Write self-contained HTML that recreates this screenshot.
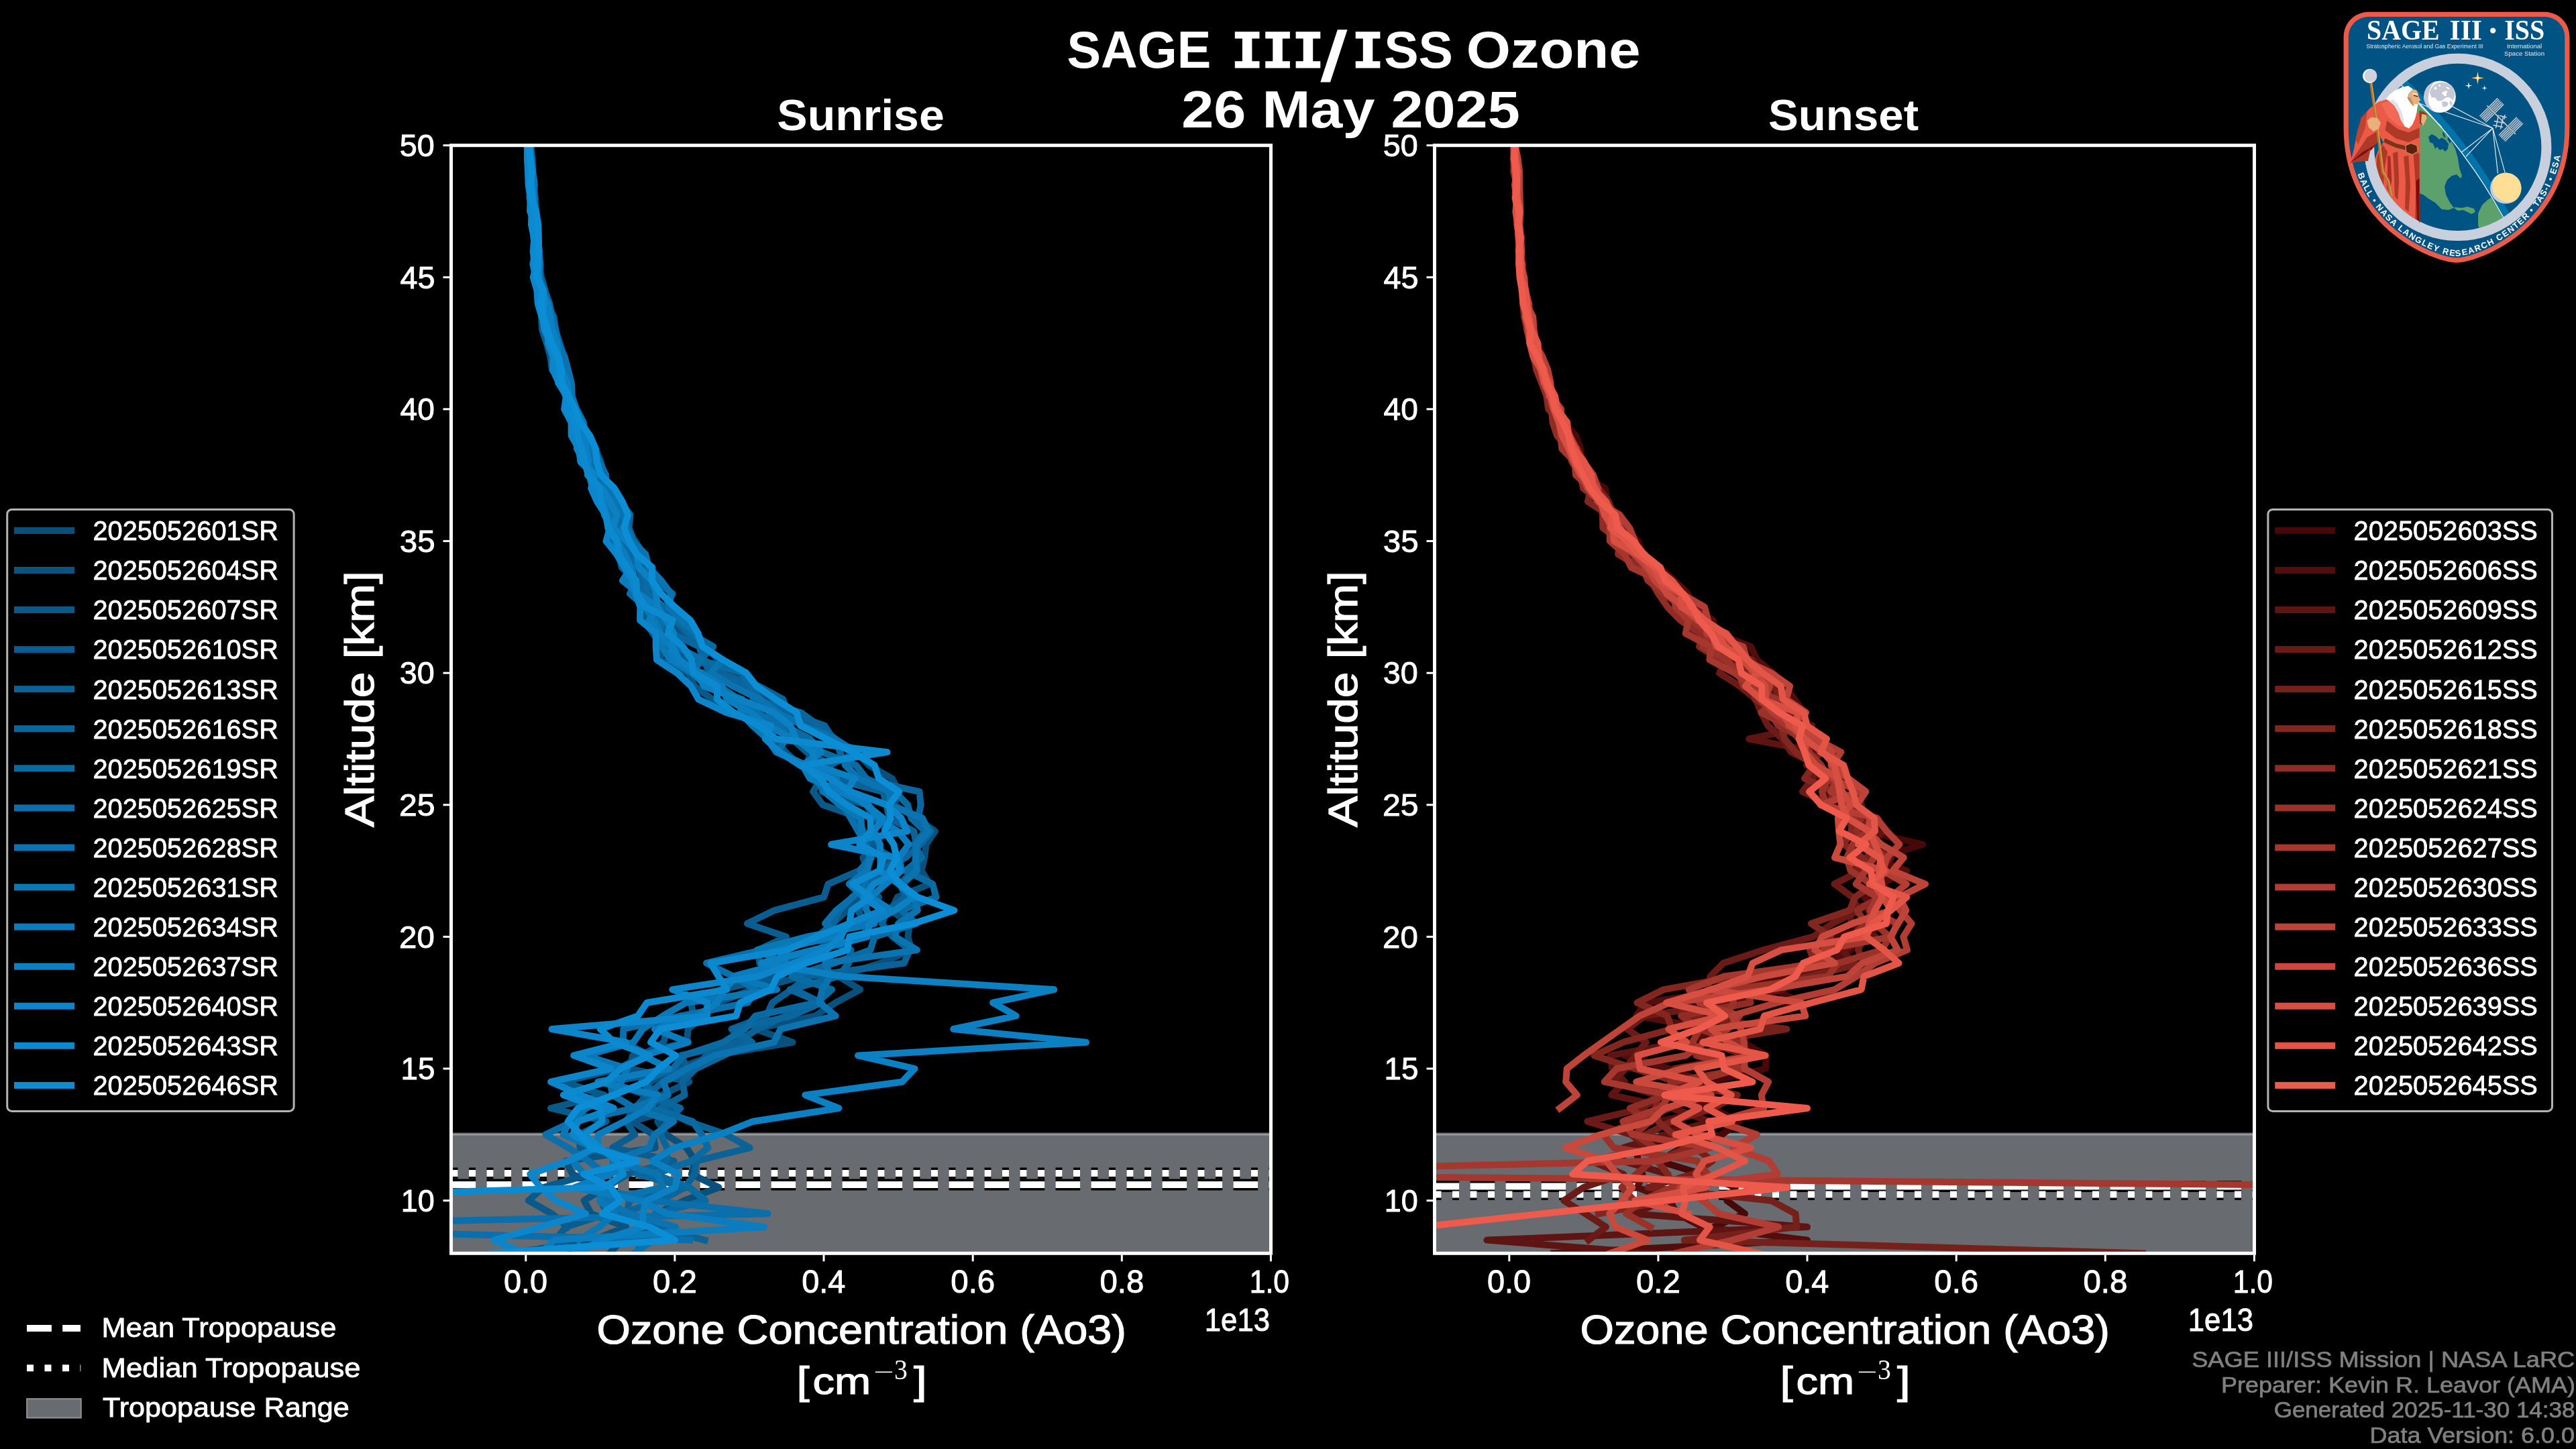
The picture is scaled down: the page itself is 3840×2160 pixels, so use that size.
<!DOCTYPE html>
<html><head><meta charset="utf-8"><title>SAGE III/ISS Ozone</title>
<style>html,body{margin:0;padding:0;background:#000;overflow:hidden}svg{display:block;will-change:transform}</style>
</head><body>
<svg width="3840" height="2160" viewBox="0 0 3840 2160">
<rect x="0" y="0" width="3840" height="2160" fill="#000"/>
<defs>
<clipPath id="cp0"><rect x="672.5" y="216.7" width="1222.0" height="1651.6"/></clipPath>
<clipPath id="cp1"><rect x="2138.5" y="216.7" width="1222.0" height="1651.6"/></clipPath>
</defs>
<g clip-path="url(#cp0)">
<rect x="672.5" y="1690.4" width="1222.0" height="182.9" fill="#686b70"/>
<rect x="672.5" y="1688.6" width="1222.0" height="2.0" fill="#787b7e"/>
<rect x="672.5" y="1690.6" width="1222.0" height="1.8" fill="#a5a8ac"/>
<line x1="672.5" y1="1749.0" x2="1894.5" y2="1749.0" stroke="#000" stroke-width="17" stroke-dasharray="10 16.5"/>
<line x1="672.5" y1="1766.0" x2="1894.5" y2="1766.0" stroke="#000" stroke-width="17" stroke-dasharray="36.7 16.3"/>
<line x1="672.5" y1="1749.0" x2="1894.5" y2="1749.0" stroke="#fff" stroke-width="10" stroke-dasharray="10 16.5"/>
<line x1="672.5" y1="1766.0" x2="1894.5" y2="1766.0" stroke="#fff" stroke-width="10" stroke-dasharray="36.7 16.3"/>
<path d="M791.1 216.7L793.2 236.4L793.9 256.0L795.3 275.7L797.8 295.3L795.3 315.0L800.8 334.7L800.2 354.3L804.2 374.0L801.4 393.7L807.3 413.3L812.7 433.0L815.5 452.6L824.2 472.3L827.7 492.0L834.9 511.6L839.9 531.3L841.2 551.0L847.3 570.6L846.2 590.3L854.5 609.9L864.4 629.6L878.7 649.3L888.4 668.9L888.0 688.6L883.1 708.2L898.4 727.9L897.0 747.6L908.6 767.2L920.4 786.9L921.8 806.6L924.0 826.2L944.4 845.9L966.1 865.5L973.5 885.2L978.9 904.9L998.6 924.5L1012.3 944.2L1002.4 963.9L1038.5 983.5L1075.9 1003.2L1104.7 1022.8L1149.8 1042.5L1167.9 1062.2L1215.8 1081.8L1242.0 1101.5L1276.8 1121.1L1295.2 1140.8L1329.9 1160.5L1340.2 1180.1L1333.0 1199.8L1365.9 1219.5L1393.9 1239.1L1380.6 1258.8L1378.2 1278.4L1373.7 1298.1L1385.9 1317.8L1337.8 1337.4L1328.1 1357.1L1355.8 1376.8L1353.5 1396.4L1358.5 1416.1L1312.8 1435.7L1249.9 1455.4L1282.2 1475.1L1245.6 1494.7L1215.2 1514.4L1126.4 1534.0L1181.4 1553.7L1063.7 1573.4L1008.5 1593.0L970.0 1612.7L958.6 1632.4L996.8 1652.0L980.3 1671.7L993.0 1691.3L1023.5 1711.0L1036.3 1730.7L1030.8 1750.3L1071.4 1770.0L1020.0 1789.7L977.9 1809.3L971.6 1829.0L927.5 1848.6L908.7 1868.3" fill="none" stroke="#09507c" stroke-width="10" stroke-linejoin="round" stroke-linecap="square"/>
<path d="M786.3 216.7L791.7 236.4L792.3 256.0L795.4 275.7L797.3 295.3L799.5 315.0L798.4 334.7L797.7 354.3L804.1 374.0L799.9 393.7L804.5 413.3L806.2 433.0L814.8 452.6L825.9 472.3L828.3 492.0L826.9 511.6L831.1 531.3L838.7 551.0L846.0 570.6L849.8 590.3L853.6 609.9L862.5 629.6L872.0 649.3L887.8 668.9L895.7 688.6L900.5 708.2L899.5 727.9L909.8 747.6L930.6 767.2L929.6 786.9L946.9 806.6L958.9 826.2L962.3 845.9L957.4 865.5L971.6 885.2L978.8 904.9L994.9 924.5L1022.6 944.2L1050.6 963.9L1071.5 983.5L1049.4 1003.2L1072.8 1022.8L1089.8 1042.5L1116.2 1062.2L1162.3 1081.8L1192.7 1101.5L1208.8 1121.1L1201.9 1140.8L1239.3 1160.5L1255.2 1180.1L1254.9 1199.8L1272.7 1219.5L1287.5 1239.1L1312.1 1258.8L1286.4 1278.4L1293.9 1298.1L1277.4 1317.8L1286.0 1337.4L1262.3 1357.1L1241.4 1376.8L1225.2 1396.4L1229.2 1416.1L1241.2 1435.7L1196.5 1455.4L1121.1 1475.1L1070.5 1494.7L1048.7 1514.4L1025.7 1534.0L1023.8 1553.7L943.1 1573.4L938.2 1593.0L1027.4 1612.7L986.2 1632.4L1008.7 1652.0L942.3 1671.7L973.9 1691.3L976.9 1711.0L843.3 1730.7L853.3 1750.3L902.8 1770.0L870.6 1789.7L881.3 1809.3L933.2 1829.0L883.8 1848.6L761.6 1868.3" fill="none" stroke="#095482" stroke-width="10" stroke-linejoin="round" stroke-linecap="square"/>
<path d="M791.9 216.7L790.0 236.4L789.6 256.0L793.9 275.7L792.6 295.3L792.3 315.0L798.3 334.7L796.9 354.3L794.3 374.0L797.6 393.7L797.3 413.3L803.1 433.0L805.3 452.6L807.0 472.3L808.2 492.0L814.8 511.6L820.4 531.3L822.9 551.0L835.4 570.6L844.5 590.3L846.7 609.9L859.8 629.6L860.8 649.3L868.9 668.9L873.4 688.6L890.1 708.2L891.7 727.9L898.7 747.6L913.8 767.2L925.4 786.9L915.4 806.6L922.7 826.2L926.6 845.9L949.8 865.5L943.1 885.2L965.1 904.9L961.0 924.5L973.2 944.2L987.8 963.9L983.7 983.5L1026.0 1003.2L1035.1 1022.8L1062.0 1042.5L1085.5 1062.2L1145.9 1081.8L1154.8 1101.5L1171.1 1121.1L1192.4 1140.8L1223.7 1160.5L1212.2 1180.1L1226.5 1199.8L1283.5 1219.5L1283.4 1239.1L1296.5 1258.8L1330.3 1278.4L1319.5 1298.1L1287.0 1317.8L1310.1 1337.4L1278.4 1357.1L1290.6 1376.8L1289.2 1396.4L1224.2 1416.1L1171.2 1435.7L1165.7 1455.4L1074.4 1475.1L1030.0 1494.7L1033.8 1514.4L994.3 1534.0L989.3 1553.7L957.1 1573.4L923.4 1593.0L839.5 1612.7L900.9 1632.4L821.0 1652.0L903.7 1671.7L863.1 1691.3L864.7 1711.0L938.5 1730.7L880.5 1750.3L810.0 1770.0L787.8 1789.7L822.7 1809.3L845.8 1829.0" fill="none" stroke="#095989" stroke-width="10" stroke-linejoin="round" stroke-linecap="square"/>
<path d="M786.7 216.7L793.4 236.4L793.5 256.0L793.0 275.7L793.1 295.3L793.7 315.0L797.6 334.7L797.0 354.3L797.6 374.0L798.2 393.7L805.6 413.3L809.5 433.0L810.7 452.6L815.6 472.3L822.8 492.0L826.8 511.6L822.8 531.3L835.3 551.0L836.9 570.6L843.1 590.3L857.1 609.9L865.2 629.6L871.4 649.3L879.1 668.9L893.2 688.6L903.1 708.2L898.2 727.9L900.8 747.6L919.7 767.2L906.5 786.9L911.6 806.6L927.8 826.2L930.7 845.9L939.5 865.5L951.6 885.2L964.2 904.9L987.3 924.5L1002.6 944.2L1006.2 963.9L1020.1 983.5L1031.1 1003.2L1063.9 1022.8L1091.0 1042.5L1166.3 1062.2L1162.9 1081.8L1180.9 1101.5L1202.5 1121.1L1239.6 1140.8L1228.0 1160.5L1225.5 1180.1L1291.9 1199.8L1302.7 1219.5L1325.8 1239.1L1292.3 1258.8L1299.4 1278.4L1280.4 1298.1L1234.5 1317.8L1228.2 1337.4L1154.4 1357.1L1114.0 1376.8L1172.0 1396.4L1130.5 1416.1L1132.4 1435.7L1203.4 1455.4L1180.1 1475.1L1151.5 1494.7L1142.4 1514.4L1090.6 1534.0L1107.4 1553.7L1014.4 1573.4L1025.5 1593.0L906.1 1612.7L965.1 1632.4L945.4 1652.0L933.3 1671.7L946.2 1691.3L912.9 1711.0L1004.6 1730.7L936.0 1750.3L903.1 1770.0L895.5 1789.7L905.2 1809.3L843.6 1829.0L827.8 1848.6L858.9 1868.3" fill="none" stroke="#0a5d90" stroke-width="10" stroke-linejoin="round" stroke-linecap="square"/>
<path d="M789.1 216.7L790.8 236.4L792.7 256.0L792.6 275.7L795.1 295.3L794.4 315.0L800.0 334.7L797.8 354.3L802.3 374.0L805.6 393.7L805.2 413.3L812.2 433.0L819.3 452.6L823.3 472.3L828.1 492.0L832.5 511.6L840.4 531.3L840.1 551.0L849.9 570.6L851.5 590.3L859.8 609.9L869.6 629.6L872.6 649.3L886.8 668.9L888.7 688.6L896.9 708.2L905.2 727.9L923.0 747.6L939.6 767.2L937.4 786.9L945.4 806.6L948.4 826.2L955.9 845.9L978.4 865.5L1002.7 885.2L991.6 904.9L1007.3 924.5L1024.4 944.2L1043.7 963.9L1049.9 983.5L1073.1 1003.2L1131.2 1022.8L1167.2 1042.5L1174.1 1062.2L1229.2 1081.8L1242.1 1101.5L1278.1 1121.1L1236.4 1140.8L1239.1 1160.5L1316.5 1180.1L1321.5 1199.8L1325.5 1219.5L1362.3 1239.1L1365.8 1258.8L1365.1 1278.4L1361.2 1298.1L1341.4 1317.8L1350.6 1337.4L1322.6 1357.1L1314.7 1376.8L1330.5 1396.4L1356.2 1416.1L1347.7 1435.7L1204.3 1455.4L1184.0 1475.1L1223.9 1494.7L1171.1 1514.4L1129.2 1534.0L1098.7 1553.7L1052.7 1573.4L1037.2 1593.0L1017.7 1612.7L1020.5 1632.4L984.5 1652.0L1026.0 1671.7L1082.9 1691.3L1117.8 1711.0L1038.2 1730.7L1035.8 1750.3L1020.6 1770.0L938.2 1789.7L934.4 1809.3L972.6 1829.0L1050.6 1848.6" fill="none" stroke="#0a6296" stroke-width="10" stroke-linejoin="round" stroke-linecap="square"/>
<path d="M787.1 216.7L789.1 236.4L791.5 256.0L793.6 275.7L790.3 295.3L792.4 315.0L799.1 334.7L796.5 354.3L799.7 374.0L797.2 393.7L802.7 413.3L805.4 433.0L809.9 452.6L822.1 472.3L826.5 492.0L833.0 511.6L834.8 531.3L842.6 551.0L842.8 570.6L850.9 590.3L853.6 609.9L857.6 629.6L873.2 649.3L874.3 668.9L879.6 688.6L889.5 708.2L903.1 727.9L914.6 747.6L912.9 767.2L924.8 786.9L927.5 806.6L941.7 826.2L953.9 845.9L956.8 865.5L957.6 885.2L969.9 904.9L977.0 924.5L1001.5 944.2L1042.4 963.9L1047.9 983.5L1059.7 1003.2L1116.4 1022.8L1123.1 1042.5L1194.0 1062.2L1220.5 1081.8L1245.2 1101.5L1252.1 1121.1L1260.3 1140.8L1280.0 1160.5L1370.5 1180.1L1372.6 1199.8L1368.8 1219.5L1387.9 1239.1L1372.2 1258.8L1349.8 1278.4L1313.4 1298.1L1294.5 1317.8L1270.2 1337.4L1251.8 1357.1L1241.4 1376.8L1218.4 1396.4L1268.5 1416.1L1265.3 1435.7L1249.9 1455.4L1177.6 1475.1L1224.6 1494.7L1179.7 1514.4L1093.5 1534.0L1121.2 1553.7L1078.5 1573.4L1037.4 1593.0L988.9 1612.7L963.7 1632.4L1014.2 1652.0L994.0 1671.7L984.6 1691.3L994.3 1711.0L994.1 1730.7L949.7 1750.3L1021.6 1770.0L984.1 1789.7L925.2 1809.3L998.7 1829.0L952.9 1848.6L952.1 1868.3" fill="none" stroke="#0a669c" stroke-width="10" stroke-linejoin="round" stroke-linecap="square"/>
<path d="M790.7 216.7L792.2 236.4L789.6 256.0L792.0 275.7L797.4 295.3L796.8 315.0L797.8 334.7L800.4 354.3L803.5 374.0L804.4 393.7L804.8 413.3L805.3 433.0L817.6 452.6L819.8 472.3L819.3 492.0L825.6 511.6L828.7 531.3L837.7 551.0L841.9 570.6L845.9 590.3L849.1 609.9L860.1 629.6L867.9 649.3L877.6 668.9L884.2 688.6L891.4 708.2L890.2 727.9L905.5 747.6L919.1 767.2L929.9 786.9L923.0 806.6L936.0 826.2L952.5 845.9L964.7 865.5L965.7 885.2L990.1 904.9L1008.4 924.5L1029.4 944.2L1063.3 963.9L1043.4 983.5L1106.0 1003.2L1118.0 1022.8L1133.2 1042.5L1146.9 1062.2L1170.0 1081.8L1207.4 1101.5L1225.2 1121.1L1276.3 1140.8L1291.4 1160.5L1334.1 1180.1L1353.0 1199.8L1358.3 1219.5L1379.1 1239.1L1362.6 1258.8L1373.9 1278.4L1349.9 1298.1L1390.2 1317.8L1395.5 1337.4L1343.7 1357.1L1365.7 1376.8L1303.5 1396.4L1297.6 1416.1L1243.2 1435.7L1180.7 1455.4L1240.0 1475.1L1217.2 1494.7L1126.0 1514.4L1110.3 1534.0L1078.3 1553.7L1018.8 1573.4L1003.2 1593.0L956.3 1612.7L980.8 1632.4L970.7 1652.0L1032.4 1671.7L1046.3 1691.3L1055.4 1711.0L1031.1 1730.7L976.2 1750.3L1027.3 1770.0L1051.8 1789.7L978.1 1809.3" fill="none" stroke="#0a6ba3" stroke-width="10" stroke-linejoin="round" stroke-linecap="square"/>
<path d="M786.1 216.7L791.4 236.4L788.0 256.0L792.3 275.7L794.8 295.3L794.7 315.0L792.7 334.7L799.0 354.3L796.1 374.0L800.7 393.7L803.1 413.3L808.1 433.0L814.4 452.6L815.5 472.3L827.0 492.0L830.2 511.6L835.0 531.3L844.7 551.0L842.3 570.6L849.8 590.3L854.9 609.9L856.0 629.6L878.1 649.3L885.2 668.9L893.5 688.6L903.1 708.2L903.0 727.9L899.2 747.6L902.0 767.2L921.1 786.9L920.0 806.6L927.4 826.2L935.6 845.9L948.2 865.5L939.1 885.2L962.4 904.9L985.5 924.5L984.3 944.2L1009.3 963.9L1045.8 983.5L1031.4 1003.2L1072.1 1022.8L1101.5 1042.5L1127.3 1062.2L1165.0 1081.8L1171.9 1101.5L1158.8 1121.1L1201.3 1140.8L1214.5 1160.5L1229.1 1180.1L1256.3 1199.8L1268.0 1219.5L1279.2 1239.1L1290.8 1258.8L1297.2 1278.4L1282.3 1298.1L1291.7 1317.8L1271.1 1337.4L1246.7 1357.1L1230.0 1376.8L1254.5 1396.4L1136.2 1416.1L1053.1 1435.7L1093.2 1455.4L1126.1 1475.1L1114.8 1494.7L1015.1 1514.4L929.4 1534.0L928.7 1553.7L969.1 1573.4L919.7 1593.0L909.5 1612.7L912.9 1632.4L946.2 1652.0L854.0 1671.7L813.4 1691.3L847.1 1711.0L877.5 1730.7L902.6 1750.3L884.4 1770.0L970.3 1789.7L1144.7 1809.3L250.7 1829.0L1028.1 1848.6" fill="none" stroke="#0a6faa" stroke-width="10" stroke-linejoin="round" stroke-linecap="square"/>
<path d="M785.7 216.7L792.1 236.4L794.4 256.0L796.9 275.7L795.0 295.3L796.9 315.0L794.6 334.7L799.7 354.3L803.4 374.0L804.8 393.7L802.9 413.3L809.9 433.0L816.4 452.6L823.2 472.3L828.3 492.0L832.2 511.6L841.5 531.3L846.7 551.0L851.8 570.6L852.7 590.3L858.7 609.9L869.7 629.6L872.2 649.3L877.0 668.9L887.5 688.6L898.7 708.2L904.2 727.9L920.0 747.6L930.5 767.2L935.1 786.9L942.4 806.6L962.3 826.2L967.2 845.9L985.7 865.5L1000.4 885.2L997.0 904.9L1015.2 924.5L1038.2 944.2L1046.5 963.9L1076.7 983.5L1059.5 1003.2L1092.5 1022.8L1132.7 1042.5L1158.7 1062.2L1198.2 1081.8L1245.0 1101.5L1275.4 1121.1L1260.3 1140.8L1279.4 1160.5L1326.5 1180.1L1326.0 1199.8L1374.9 1219.5L1384.3 1239.1L1365.9 1258.8L1365.2 1278.4L1366.9 1298.1L1345.2 1317.8L1362.4 1337.4L1367.8 1357.1L1339.0 1376.8L1334.1 1396.4L1366.9 1416.1L1230.0 1435.7L1238.0 1455.4L1225.7 1475.1L1221.3 1494.7L1245.7 1514.4L1163.6 1534.0L1153.8 1553.7L1065.1 1573.4L1024.3 1593.0L989.0 1612.7L995.8 1632.4L942.3 1652.0L1004.2 1671.7L975.5 1691.3L967.8 1711.0L913.1 1730.7L979.8 1750.3L988.8 1770.0L899.1 1789.7L938.7 1809.3L1007.1 1829.0L974.2 1848.6L945.1 1868.3" fill="none" stroke="#0b73b0" stroke-width="10" stroke-linejoin="round" stroke-linecap="square"/>
<path d="M790.2 216.7L787.8 236.4L789.7 256.0L791.0 275.7L793.5 295.3L794.1 315.0L795.8 334.7L798.4 354.3L799.3 374.0L794.2 393.7L798.4 413.3L803.4 433.0L811.8 452.6L811.5 472.3L815.3 492.0L817.8 511.6L825.1 531.3L828.4 551.0L835.2 570.6L844.4 590.3L854.3 609.9L859.9 629.6L866.9 649.3L876.4 668.9L872.0 688.6L888.9 708.2L884.8 727.9L902.9 747.6L908.6 767.2L908.5 786.9L917.2 806.6L925.9 826.2L941.4 845.9L946.5 865.5L948.3 885.2L961.1 904.9L974.7 924.5L984.4 944.2L987.1 963.9L998.4 983.5L1032.1 1003.2L1053.2 1022.8L1106.2 1042.5L1103.9 1062.2L1121.8 1081.8L1143.9 1101.5L1156.9 1121.1L1202.7 1140.8L1247.4 1160.5L1229.0 1180.1L1251.9 1199.8L1282.8 1219.5L1285.0 1239.1L1287.4 1258.8L1298.0 1278.4L1292.1 1298.1L1265.8 1317.8L1287.2 1337.4L1291.7 1357.1L1303.7 1376.8L1203.4 1396.4L1128.9 1416.1L1167.5 1435.7L1093.3 1455.4L1158.0 1475.1L1022.3 1494.7L988.3 1514.4L957.9 1534.0L944.5 1553.7L872.5 1573.4L934.9 1593.0L926.3 1612.7L913.2 1632.4L873.8 1652.0L848.4 1671.7L839.7 1691.3L885.3 1711.0L853.6 1730.7L870.8 1750.3L897.6 1770.0L893.9 1789.7L916.7 1809.3L893.3 1829.0L863.1 1848.6" fill="none" stroke="#0b78b6" stroke-width="10" stroke-linejoin="round" stroke-linecap="square"/>
<path d="M785.0 216.7L791.2 236.4L790.1 256.0L790.8 275.7L789.5 295.3L796.3 315.0L796.2 334.7L800.1 354.3L800.3 374.0L803.4 393.7L799.2 413.3L808.3 433.0L807.7 452.6L814.4 472.3L823.5 492.0L830.3 511.6L829.2 531.3L834.2 551.0L840.3 570.6L846.4 590.3L846.4 609.9L857.4 629.6L859.5 649.3L859.9 668.9L871.3 688.6L878.1 708.2L883.7 727.9L901.2 747.6L900.9 767.2L911.0 786.9L920.1 806.6L930.9 826.2L940.4 845.9L928.1 865.5L952.4 885.2L979.5 904.9L967.5 924.5L984.5 944.2L999.1 963.9L1003.0 983.5L1045.8 1003.2L1076.5 1022.8L1083.7 1042.5L1119.0 1062.2L1143.5 1081.8L1183.7 1101.5L1224.2 1121.1L1196.3 1140.8L1207.4 1160.5L1252.2 1180.1L1294.7 1199.8L1308.0 1219.5L1338.3 1239.1L1354.8 1258.8L1340.1 1278.4L1343.9 1298.1L1319.9 1317.8L1298.3 1337.4L1329.3 1357.1L1265.4 1376.8L1239.7 1396.4L1160.7 1416.1L1171.4 1435.7L1098.8 1455.4L1079.5 1475.1L1069.0 1494.7L1039.2 1514.4L975.9 1534.0L1025.8 1553.7L958.4 1573.4L997.6 1593.0L891.4 1612.7L979.8 1632.4L965.7 1652.0L931.2 1671.7L891.9 1691.3L890.5 1711.0L950.1 1730.7L910.0 1750.3L857.0 1770.0L954.0 1789.7L994.8 1809.3L1139.2 1829.0L826.1 1848.6L806.1 1868.3" fill="none" stroke="#0b7cbd" stroke-width="10" stroke-linejoin="round" stroke-linecap="square"/>
<path d="M787.4 216.7L788.7 236.4L787.8 256.0L792.8 275.7L794.6 295.3L796.2 315.0L799.2 334.7L798.7 354.3L802.7 374.0L802.0 393.7L803.4 413.3L806.9 433.0L816.4 452.6L819.9 472.3L822.9 492.0L830.7 511.6L831.4 531.3L837.2 551.0L845.4 570.6L847.8 590.3L854.3 609.9L859.1 629.6L873.1 649.3L872.4 668.9L877.2 688.6L875.8 708.2L897.1 727.9L909.3 747.6L919.8 767.2L913.8 786.9L934.2 806.6L949.6 826.2L952.3 845.9L971.8 865.5L978.3 885.2L979.8 904.9L993.0 924.5L1004.2 944.2L1002.4 963.9L1012.2 983.5L1038.9 1003.2L1049.5 1022.8L1101.8 1042.5L1153.6 1062.2L1178.5 1081.8L1186.6 1101.5L1211.4 1121.1L1215.2 1140.8L1274.0 1160.5L1261.9 1180.1L1291.6 1199.8L1315.9 1219.5L1302.9 1239.1L1311.7 1258.8L1312.6 1278.4L1312.2 1298.1L1339.4 1317.8L1361.5 1337.4L1333.5 1357.1L1295.6 1376.8L1293.1 1396.4L1212.6 1416.1L1135.0 1435.7L1255.8 1455.4L1571.2 1475.1L1480.1 1494.7L1514.6 1514.4L1421.3 1534.0L1619.0 1553.7L1279.1 1573.4L1363.5 1593.0L1344.7 1612.7L1200.3 1632.4L1250.3 1652.0L1122.5 1671.7L1072.6 1691.3L1005.9 1711.0L972.6 1730.7L1011.1 1750.3L1006.2 1770.0L963.9 1789.7L958.2 1809.3L958.4 1829.0L897.2 1848.6L857.6 1868.3" fill="none" stroke="#0b81c4" stroke-width="10" stroke-linejoin="round" stroke-linecap="square"/>
<path d="M786.1 216.7L785.9 236.4L787.0 256.0L787.7 275.7L790.6 295.3L790.1 315.0L797.5 334.7L795.4 354.3L800.1 374.0L800.0 393.7L794.8 413.3L800.5 433.0L801.7 452.6L807.5 472.3L817.0 492.0L816.9 511.6L824.5 531.3L824.2 551.0L832.9 570.6L843.9 590.3L841.2 609.9L851.6 629.6L851.7 649.3L862.9 668.9L865.5 688.6L885.6 708.2L881.2 727.9L889.9 747.6L902.5 767.2L909.2 786.9L903.5 806.6L919.1 826.2L930.6 845.9L942.3 865.5L947.7 885.2L954.4 904.9L954.1 924.5L977.8 944.2L977.7 963.9L979.0 983.5L1009.2 1003.2L1030.0 1022.8L1041.3 1042.5L1082.8 1062.2L1149.3 1081.8L1140.8 1101.5L1162.4 1121.1L1192.4 1140.8L1237.3 1160.5L1268.0 1180.1L1321.7 1199.8L1343.4 1219.5L1352.4 1239.1L1239.1 1258.8L1335.8 1278.4L1341.5 1298.1L1302.6 1317.8L1287.8 1337.4L1315.4 1357.1L1265.0 1376.8L1252.9 1396.4L1231.7 1416.1L1184.3 1435.7L1130.7 1455.4L1002.3 1475.1L1054.2 1494.7L1054.0 1514.4L822.7 1534.0L933.2 1553.7L855.3 1573.4L910.7 1593.0L821.1 1612.7L865.8 1632.4L914.9 1652.0L861.4 1671.7L853.9 1691.3L887.0 1711.0L847.2 1730.7L790.3 1750.3L805.9 1770.0L828.8 1789.7L873.1 1809.3L805.5 1829.0L736.2 1848.6L781.8 1868.3" fill="none" stroke="#0c85ca" stroke-width="10" stroke-linejoin="round" stroke-linecap="square"/>
<path d="M789.0 216.7L790.3 236.4L792.3 256.0L791.7 275.7L794.6 295.3L792.7 315.0L792.0 334.7L796.0 354.3L795.5 374.0L795.9 393.7L801.3 413.3L810.0 433.0L810.0 452.6L808.6 472.3L811.7 492.0L820.5 511.6L830.4 531.3L833.3 551.0L832.1 570.6L845.4 590.3L844.3 609.9L857.5 629.6L861.2 649.3L866.8 668.9L871.4 688.6L877.2 708.2L893.4 727.9L895.5 747.6L903.1 767.2L906.4 786.9L919.5 806.6L922.3 826.2L935.0 845.9L948.1 865.5L949.5 885.2L962.4 904.9L1002.7 924.5L995.6 944.2L1018.0 963.9L1031.0 983.5L1033.5 1003.2L1069.4 1022.8L1068.9 1042.5L1094.0 1062.2L1130.6 1081.8L1156.3 1101.5L1322.4 1121.1L1197.0 1140.8L1223.3 1160.5L1235.6 1180.1L1262.4 1199.8L1297.4 1219.5L1298.3 1239.1L1281.3 1258.8L1317.5 1278.4L1310.8 1298.1L1271.0 1317.8L1297.8 1337.4L1269.4 1357.1L1266.0 1376.8L1217.4 1396.4L1173.1 1416.1L1059.3 1435.7L1070.9 1455.4L1083.2 1475.1L964.3 1494.7L950.9 1514.4L894.8 1534.0L915.5 1553.7L968.1 1573.4L925.5 1593.0L903.8 1612.7L839.9 1632.4L895.5 1652.0L897.7 1671.7L871.0 1691.3L894.0 1711.0L920.0 1730.7L929.2 1750.3L900.4 1770.0L221.8 1789.7" fill="none" stroke="#0c8ad0" stroke-width="10" stroke-linejoin="round" stroke-linecap="square"/>
<path d="M788.4 216.7L790.3 236.4L793.1 256.0L790.1 275.7L792.5 295.3L798.9 315.0L802.3 334.7L802.9 354.3L803.1 374.0L801.9 393.7L799.5 413.3L809.6 433.0L805.7 452.6L810.4 472.3L816.3 492.0L822.5 511.6L832.1 531.3L836.8 551.0L837.3 570.6L847.5 590.3L857.4 609.9L865.1 629.6L879.3 649.3L887.7 668.9L889.8 688.6L896.0 708.2L915.8 727.9L927.6 747.6L936.3 767.2L930.1 786.9L938.1 806.6L949.1 826.2L972.3 845.9L971.8 865.5L985.7 885.2L1005.9 904.9L1029.1 924.5L1040.6 944.2L1047.3 963.9L1077.7 983.5L1112.5 1003.2L1127.7 1022.8L1156.2 1042.5L1187.6 1062.2L1193.2 1081.8L1231.9 1101.5L1270.8 1121.1L1303.6 1140.8L1310.0 1160.5L1340.2 1180.1L1325.8 1199.8L1327.5 1219.5L1318.8 1239.1L1332.2 1258.8L1336.8 1278.4L1326.7 1298.1L1341.8 1317.8L1368.0 1337.4L1422.4 1357.1L1361.3 1376.8L1266.4 1396.4L1263.3 1416.1L1201.2 1435.7L1158.7 1455.4L1149.2 1475.1L1103.3 1494.7L1097.5 1514.4L984.2 1534.0L970.0 1553.7L1007.2 1573.4L981.5 1593.0L963.5 1612.7L914.8 1632.4L861.4 1652.0L846.8 1671.7L865.8 1691.3L881.1 1711.0L950.3 1730.7L870.1 1750.3L910.5 1770.0L924.6 1789.7L897.8 1809.3L968.3 1829.0L1005.9 1848.6L733.8 1868.3" fill="none" stroke="#0c8ed7" stroke-width="10" stroke-linejoin="round" stroke-linecap="square"/>
</g>
<rect x="672.5" y="216.7" width="1222.0" height="1651.6" fill="none" stroke="#fff" stroke-width="5"/>
<rect x="660.5" y="1788.2" width="9.5" height="3" fill="#fff"/>
<text x="597.7" y="1805.9" font-family='"Liberation Sans", sans-serif' font-size="47.0" font-weight="normal" fill="#fff" text-anchor="start" textLength="50.0" lengthAdjust="spacingAndGlyphs"  stroke="#fff" stroke-width="0.94">10</text>
<rect x="660.5" y="1591.5" width="9.5" height="3" fill="#fff"/>
<text x="597.6" y="1609.2" font-family='"Liberation Sans", sans-serif' font-size="47.0" font-weight="normal" fill="#fff" text-anchor="start" textLength="50.8" lengthAdjust="spacingAndGlyphs"  stroke="#fff" stroke-width="0.94">15</text>
<rect x="660.5" y="1394.9" width="9.5" height="3" fill="#fff"/>
<text x="595.1" y="1412.6" font-family='"Liberation Sans", sans-serif' font-size="47.0" font-weight="normal" fill="#fff" text-anchor="start" textLength="52.7" lengthAdjust="spacingAndGlyphs"  stroke="#fff" stroke-width="0.94">20</text>
<rect x="660.5" y="1198.3" width="9.5" height="3" fill="#fff"/>
<text x="595.0" y="1216.0" font-family='"Liberation Sans", sans-serif' font-size="47.0" font-weight="normal" fill="#fff" text-anchor="start" textLength="53.5" lengthAdjust="spacingAndGlyphs"  stroke="#fff" stroke-width="0.94">25</text>
<rect x="660.5" y="1001.7" width="9.5" height="3" fill="#fff"/>
<text x="595.8" y="1019.4" font-family='"Liberation Sans", sans-serif' font-size="47.0" font-weight="normal" fill="#fff" text-anchor="start" textLength="51.9" lengthAdjust="spacingAndGlyphs"  stroke="#fff" stroke-width="0.94">30</text>
<rect x="660.5" y="805.1" width="9.5" height="3" fill="#fff"/>
<text x="595.8" y="822.8" font-family='"Liberation Sans", sans-serif' font-size="47.0" font-weight="normal" fill="#fff" text-anchor="start" textLength="52.7" lengthAdjust="spacingAndGlyphs"  stroke="#fff" stroke-width="0.94">35</text>
<rect x="660.5" y="608.4" width="9.5" height="3" fill="#fff"/>
<text x="596.6" y="626.1" font-family='"Liberation Sans", sans-serif' font-size="47.0" font-weight="normal" fill="#fff" text-anchor="start" textLength="51.2" lengthAdjust="spacingAndGlyphs"  stroke="#fff" stroke-width="0.94">40</text>
<rect x="660.5" y="411.8" width="9.5" height="3" fill="#fff"/>
<text x="596.6" y="429.5" font-family='"Liberation Sans", sans-serif' font-size="47.0" font-weight="normal" fill="#fff" text-anchor="start" textLength="51.9" lengthAdjust="spacingAndGlyphs"  stroke="#fff" stroke-width="0.94">45</text>
<rect x="660.5" y="215.2" width="9.5" height="3" fill="#fff"/>
<text x="595.8" y="232.9" font-family='"Liberation Sans", sans-serif' font-size="47.0" font-weight="normal" fill="#fff" text-anchor="start" textLength="51.9" lengthAdjust="spacingAndGlyphs"  stroke="#fff" stroke-width="0.94">50</text>
<rect x="782.3" y="1870.8" width="3" height="9.5" fill="#fff"/>
<text x="750.9" y="1927.4" font-family='"Liberation Sans", sans-serif' font-size="48.0" font-weight="normal" fill="#fff" text-anchor="start" textLength="65.1" lengthAdjust="spacingAndGlyphs"  stroke="#fff" stroke-width="0.96">0.0</text>
<rect x="1004.4" y="1870.8" width="3" height="9.5" fill="#fff"/>
<text x="973.0" y="1927.4" font-family='"Liberation Sans", sans-serif' font-size="48.0" font-weight="normal" fill="#fff" text-anchor="start" textLength="65.9" lengthAdjust="spacingAndGlyphs"  stroke="#fff" stroke-width="0.96">0.2</text>
<rect x="1226.5" y="1870.8" width="3" height="9.5" fill="#fff"/>
<text x="1195.2" y="1927.4" font-family='"Liberation Sans", sans-serif' font-size="48.0" font-weight="normal" fill="#fff" text-anchor="start" textLength="65.1" lengthAdjust="spacingAndGlyphs"  stroke="#fff" stroke-width="0.96">0.4</text>
<rect x="1448.7" y="1870.8" width="3" height="9.5" fill="#fff"/>
<text x="1417.3" y="1927.4" font-family='"Liberation Sans", sans-serif' font-size="48.0" font-weight="normal" fill="#fff" text-anchor="start" textLength="65.9" lengthAdjust="spacingAndGlyphs"  stroke="#fff" stroke-width="0.96">0.6</text>
<rect x="1670.8" y="1870.8" width="3" height="9.5" fill="#fff"/>
<text x="1639.4" y="1927.4" font-family='"Liberation Sans", sans-serif' font-size="48.0" font-weight="normal" fill="#fff" text-anchor="start" textLength="65.9" lengthAdjust="spacingAndGlyphs"  stroke="#fff" stroke-width="0.96">0.8</text>
<rect x="1892.9" y="1870.8" width="3" height="9.5" fill="#fff"/>
<text x="1862.8" y="1927.4" font-family='"Liberation Sans", sans-serif' font-size="48.0" font-weight="normal" fill="#fff" text-anchor="start" textLength="59.2" lengthAdjust="spacingAndGlyphs"  stroke="#fff" stroke-width="0.96">1.0</text>
<text x="1795.8" y="1983.8" font-family='"Liberation Sans", sans-serif' font-size="48.0" font-weight="normal" fill="#fff" text-anchor="start" textLength="97.2" lengthAdjust="spacingAndGlyphs"  stroke="#fff" stroke-width="0.96">1e13</text>
<text x="889.5" y="2002.8" font-family='"Liberation Sans", sans-serif' font-size="61.0" font-weight="normal" fill="#fff" text-anchor="start" textLength="789.4" lengthAdjust="spacingAndGlyphs"  stroke="#fff" stroke-width="1.22">Ozone Concentration (Ao3)</text>
<text x="1187.5" y="2077.6" font-family='"Liberation Sans", sans-serif' font-size="57.5" font-weight="normal" fill="#fff" text-anchor="start" textLength="19.2" lengthAdjust="spacingAndGlyphs"  stroke="#fff" stroke-width="1.15">[</text>
<text x="1211.5" y="2077.6" font-family='"Liberation Sans", sans-serif' font-size="56.0" font-weight="normal" fill="#fff" text-anchor="start" textLength="86.6" lengthAdjust="spacingAndGlyphs"  stroke="#fff" stroke-width="1.12">cm</text>
<rect x="1304.8" y="2044.5" width="25.2" height="1.7" fill="#fff"/>
<text x="1333.1" y="2055.6" font-family='"Liberation Serif", serif' font-size="42.5" font-weight="normal" fill="#fff" text-anchor="start" textLength="19.9" lengthAdjust="spacingAndGlyphs" >3</text>
<text x="1361.9" y="2077.6" font-family='"Liberation Sans", sans-serif' font-size="57.5" font-weight="normal" fill="#fff" text-anchor="start" textLength="19.8" lengthAdjust="spacingAndGlyphs"  stroke="#fff" stroke-width="1.15">]</text>
<g transform="translate(557.0 1233.0) rotate(-90)">
<text x="0.0" y="0.0" font-family='"Liberation Sans", sans-serif' font-size="61.0" font-weight="normal" fill="#fff" text-anchor="start" textLength="381.7" lengthAdjust="spacingAndGlyphs"  stroke="#fff" stroke-width="1.22">Altitude [km]</text>
</g>
<g clip-path="url(#cp1)">
<rect x="2138.5" y="1690.4" width="1222.0" height="182.9" fill="#686b70"/>
<rect x="2138.5" y="1688.6" width="1222.0" height="2.0" fill="#787b7e"/>
<rect x="2138.5" y="1690.6" width="1222.0" height="1.8" fill="#a5a8ac"/>
<line x1="2138.5" y1="1780.5" x2="3360.5" y2="1780.5" stroke="#000" stroke-width="17" stroke-dasharray="10 16.5"/>
<line x1="2138.5" y1="1768.6" x2="3360.5" y2="1768.6" stroke="#000" stroke-width="17" stroke-dasharray="36.7 16.3"/>
<line x1="2138.5" y1="1780.5" x2="3360.5" y2="1780.5" stroke="#fff" stroke-width="10" stroke-dasharray="10 16.5"/>
<line x1="2138.5" y1="1768.6" x2="3360.5" y2="1768.6" stroke="#fff" stroke-width="10" stroke-dasharray="36.7 16.3"/>
<path d="M2255.8 216.7L2258.3 236.4L2259.5 256.0L2260.6 275.7L2265.1 295.3L2264.8 315.0L2264.1 334.7L2266.8 354.3L2268.4 374.0L2270.0 393.7L2270.5 413.3L2272.9 433.0L2272.4 452.6L2278.8 472.3L2286.5 492.0L2291.9 511.6L2299.2 531.3L2300.8 551.0L2311.1 570.6L2314.4 590.3L2323.5 609.9L2331.0 629.6L2349.1 649.3L2356.4 668.9L2354.4 688.6L2357.6 708.2L2392.8 727.9L2396.5 747.6L2397.8 767.2L2419.8 786.9L2442.0 806.6L2449.9 826.2L2472.5 845.9L2482.1 865.5L2492.2 885.2L2524.9 904.9L2510.0 924.5L2545.3 944.2L2564.3 963.9L2582.2 983.5L2625.4 1003.2L2624.8 1022.8L2666.6 1042.5L2658.2 1062.2L2692.5 1081.8L2686.4 1101.5L2730.7 1121.1L2729.9 1140.8L2728.0 1160.5L2735.3 1180.1L2735.8 1199.8L2800.2 1219.5L2782.7 1239.1L2866.2 1258.8L2803.0 1278.4L2811.3 1298.1L2803.9 1317.8L2812.0 1337.4L2783.8 1357.1L2804.9 1376.8L2739.3 1396.4L2759.8 1416.1L2724.4 1435.7L2694.6 1455.4L2646.7 1475.1L2684.8 1494.7L2632.2 1514.4L2607.1 1534.0L2599.2 1553.7L2632.6 1573.4L2632.1 1593.0L2550.1 1612.7L2510.1 1632.4L2551.8 1652.0L2592.5 1671.7L2567.0 1691.3L2507.6 1711.0L2473.1 1730.7L2537.0 1750.3L2587.1 1770.0L2574.3 1789.7L2601.0 1809.3L2554.8 1829.0L2539.2 1848.6" fill="none" stroke="#460808" stroke-width="10" stroke-linejoin="round" stroke-linecap="square"/>
<path d="M2258.6 216.7L2257.9 236.4L2258.9 256.0L2261.1 275.7L2259.7 295.3L2262.8 315.0L2262.7 334.7L2267.0 354.3L2265.0 374.0L2267.7 393.7L2267.7 413.3L2274.1 433.0L2277.2 452.6L2279.7 472.3L2281.3 492.0L2286.8 511.6L2293.0 531.3L2300.8 551.0L2305.0 570.6L2311.8 590.3L2324.8 609.9L2322.6 629.6L2340.5 649.3L2343.5 668.9L2353.4 688.6L2358.2 708.2L2375.3 727.9L2382.4 747.6L2394.9 767.2L2406.1 786.9L2424.9 806.6L2446.1 826.2L2474.3 845.9L2495.8 865.5L2516.3 885.2L2522.9 904.9L2553.4 924.5L2558.0 944.2L2609.9 963.9L2619.1 983.5L2642.6 1003.2L2660.7 1022.8L2675.3 1042.5L2688.9 1062.2L2682.4 1081.8L2683.2 1101.5L2721.6 1121.1L2741.9 1140.8L2706.3 1160.5L2718.5 1180.1L2751.2 1199.8L2764.2 1219.5L2762.8 1239.1L2798.0 1258.8L2790.4 1278.4L2842.2 1298.1L2804.1 1317.8L2779.2 1337.4L2797.3 1357.1L2813.6 1376.8L2769.6 1396.4L2754.1 1416.1L2730.5 1435.7L2657.5 1455.4L2579.8 1475.1L2453.1 1494.7L2439.0 1514.4L2553.0 1534.0L2522.9 1553.7L2421.3 1573.4L2487.0 1593.0L2540.5 1612.7L2489.8 1632.4L2559.7 1652.0L2473.2 1671.7L2517.9 1691.3L2439.1 1711.0L2441.9 1730.7L2448.5 1750.3L2441.0 1770.0L2489.2 1789.7L2500.0 1809.3L2538.3 1829.0L2694.0 1848.6L2316.4 1868.3" fill="none" stroke="#520e0d" stroke-width="10" stroke-linejoin="round" stroke-linecap="square"/>
<path d="M2256.6 216.7L2257.3 236.4L2255.8 256.0L2261.4 275.7L2262.3 295.3L2261.1 315.0L2263.0 334.7L2264.6 354.3L2263.5 374.0L2265.0 393.7L2270.7 413.3L2273.1 433.0L2274.8 452.6L2276.6 472.3L2280.1 492.0L2281.3 511.6L2292.7 531.3L2296.0 551.0L2306.1 570.6L2311.4 590.3L2320.0 609.9L2326.8 629.6L2329.0 649.3L2343.5 668.9L2349.3 688.6L2357.1 708.2L2382.6 727.9L2380.8 747.6L2397.2 767.2L2408.0 786.9L2428.7 806.6L2436.8 826.2L2449.0 845.9L2484.2 865.5L2494.4 885.2L2518.8 904.9L2537.3 924.5L2543.5 944.2L2582.9 963.9L2597.0 983.5L2624.3 1003.2L2635.6 1022.8L2645.5 1042.5L2642.1 1062.2L2701.3 1081.8L2607.4 1101.5L2710.4 1121.1L2693.0 1140.8L2746.1 1160.5L2771.2 1180.1L2774.8 1199.8L2777.8 1219.5L2808.3 1239.1L2784.3 1258.8L2819.5 1278.4L2798.8 1298.1L2805.4 1317.8L2817.8 1337.4L2756.0 1357.1L2760.4 1376.8L2796.0 1396.4L2745.9 1416.1L2762.8 1435.7L2682.4 1455.4L2657.6 1475.1L2556.8 1494.7L2569.0 1514.4L2517.3 1534.0L2508.6 1553.7L2400.7 1573.4L2403.1 1593.0L2422.0 1612.7L2402.3 1632.4L2492.1 1652.0L2549.5 1671.7L2484.3 1691.3L2419.7 1711.0L2419.1 1730.7L2486.3 1750.3L2464.8 1770.0L2482.6 1789.7L2433.5 1809.3L2694.0 1829.0L2216.5 1848.6L2463.4 1868.3" fill="none" stroke="#5e1412" stroke-width="10" stroke-linejoin="round" stroke-linecap="square"/>
<path d="M2258.7 216.7L2259.3 236.4L2261.7 256.0L2260.8 275.7L2260.4 295.3L2261.4 315.0L2261.5 334.7L2266.6 354.3L2268.0 374.0L2265.9 393.7L2271.4 413.3L2268.6 433.0L2270.1 452.6L2278.6 472.3L2276.3 492.0L2280.1 511.6L2293.8 531.3L2301.7 551.0L2308.2 570.6L2311.8 590.3L2316.2 609.9L2316.3 629.6L2334.0 649.3L2343.8 668.9L2344.2 688.6L2355.9 708.2L2371.7 727.9L2380.9 747.6L2393.7 767.2L2403.6 786.9L2411.1 806.6L2435.6 826.2L2440.5 845.9L2481.1 865.5L2491.3 885.2L2511.7 904.9L2523.7 924.5L2524.1 944.2L2547.6 963.9L2571.8 983.5L2563.2 1003.2L2593.3 1022.8L2617.3 1042.5L2625.2 1062.2L2635.5 1081.8L2656.9 1101.5L2669.9 1121.1L2708.7 1140.8L2701.9 1160.5L2687.0 1180.1L2730.5 1199.8L2752.8 1219.5L2764.1 1239.1L2763.1 1258.8L2755.1 1278.4L2773.3 1298.1L2734.6 1317.8L2761.6 1337.4L2770.5 1357.1L2731.3 1376.8L2702.7 1396.4L2629.2 1416.1L2568.9 1435.7L2549.5 1455.4L2545.8 1475.1L2581.1 1494.7L2451.9 1514.4L2425.6 1534.0L2453.8 1553.7L2437.3 1573.4L2423.4 1593.0L2403.6 1612.7L2470.7 1632.4L2449.6 1652.0L2366.4 1671.7L2431.4 1691.3L2456.5 1711.0L2371.5 1730.7L2420.1 1750.3L2360.6 1770.0L2331.3 1789.7L2363.3 1809.3L2393.9 1829.0L2368.3 1848.6" fill="none" stroke="#6a1a17" stroke-width="10" stroke-linejoin="round" stroke-linecap="square"/>
<path d="M2258.3 216.7L2260.0 236.4L2259.6 256.0L2260.7 275.7L2260.1 295.3L2264.6 315.0L2264.9 334.7L2268.2 354.3L2266.5 374.0L2266.7 393.7L2271.5 413.3L2270.5 433.0L2277.5 452.6L2279.1 472.3L2284.4 492.0L2289.6 511.6L2294.7 531.3L2299.2 551.0L2306.1 570.6L2316.9 590.3L2323.1 609.9L2333.9 629.6L2339.8 649.3L2351.3 668.9L2361.8 688.6L2360.5 708.2L2383.1 727.9L2397.8 747.6L2405.8 767.2L2421.1 786.9L2430.8 806.6L2444.3 826.2L2466.8 845.9L2491.7 865.5L2494.7 885.2L2525.0 904.9L2543.9 924.5L2555.9 944.2L2566.1 963.9L2611.1 983.5L2623.9 1003.2L2646.1 1022.8L2653.2 1042.5L2667.0 1062.2L2687.5 1081.8L2709.5 1101.5L2713.4 1121.1L2699.6 1140.8L2741.4 1160.5L2744.9 1180.1L2765.4 1199.8L2776.9 1219.5L2782.1 1239.1L2794.5 1258.8L2782.9 1278.4L2767.6 1298.1L2786.3 1317.8L2799.3 1337.4L2793.5 1357.1L2777.7 1376.8L2779.0 1396.4L2770.0 1416.1L2777.9 1435.7L2697.0 1455.4L2606.9 1475.1L2509.9 1494.7L2506.8 1514.4L2663.4 1534.0L2541.6 1553.7L2607.7 1573.4L2496.6 1593.0L2495.3 1612.7L2589.9 1632.4L2553.5 1652.0L2491.3 1671.7L2453.3 1691.3L2527.0 1711.0L2552.8 1730.7L2523.3 1750.3L2456.8 1770.0L2640.0 1789.7L2676.6 1809.3L2678.3 1829.0L2510.8 1848.6L3193.8 1868.3" fill="none" stroke="#76201b" stroke-width="10" stroke-linejoin="round" stroke-linecap="square"/>
<path d="M2256.8 216.7L2255.6 236.4L2258.0 256.0L2259.6 275.7L2258.3 295.3L2261.9 315.0L2262.4 334.7L2264.8 354.3L2266.1 374.0L2265.4 393.7L2267.9 413.3L2272.7 433.0L2270.8 452.6L2272.1 472.3L2276.4 492.0L2280.8 511.6L2288.6 531.3L2290.1 551.0L2298.1 570.6L2305.4 590.3L2308.1 609.9L2328.1 629.6L2330.5 649.3L2334.6 668.9L2345.8 688.6L2361.1 708.2L2371.9 727.9L2366.9 747.6L2396.6 767.2L2417.9 786.9L2413.1 806.6L2434.0 826.2L2446.7 845.9L2467.2 865.5L2493.8 885.2L2501.2 904.9L2529.3 924.5L2538.5 944.2L2533.0 963.9L2564.1 983.5L2607.8 1003.2L2614.4 1022.8L2616.2 1042.5L2652.7 1062.2L2654.5 1081.8L2660.4 1101.5L2676.7 1121.1L2704.4 1140.8L2690.0 1160.5L2734.7 1180.1L2725.4 1199.8L2763.6 1219.5L2759.4 1239.1L2748.6 1258.8L2775.8 1278.4L2794.7 1298.1L2793.2 1317.8L2765.5 1337.4L2757.4 1357.1L2700.0 1376.8L2729.4 1396.4L2698.0 1416.1L2705.1 1435.7L2590.6 1455.4L2480.2 1475.1L2440.5 1494.7L2485.3 1514.4L2492.4 1534.0L2419.4 1553.7L2376.5 1573.4L2436.8 1593.0L2499.7 1612.7L2470.5 1632.4L2468.9 1652.0L2471.7 1671.7L2494.8 1691.3L2514.9 1711.0L2470.8 1730.7L2486.1 1750.3L2495.8 1770.0L2486.2 1789.7L2382.8 1809.3" fill="none" stroke="#822620" stroke-width="10" stroke-linejoin="round" stroke-linecap="square"/>
<path d="M2256.6 216.7L2259.0 236.4L2258.7 256.0L2260.6 275.7L2262.3 295.3L2260.9 315.0L2262.4 334.7L2263.7 354.3L2263.9 374.0L2269.6 393.7L2268.5 413.3L2271.0 433.0L2269.9 452.6L2272.7 472.3L2279.0 492.0L2283.3 511.6L2285.5 531.3L2290.8 551.0L2298.1 570.6L2306.1 590.3L2313.0 609.9L2314.5 629.6L2321.0 649.3L2337.4 668.9L2343.2 688.6L2356.0 708.2L2360.2 727.9L2385.0 747.6L2389.0 767.2L2389.4 786.9L2414.5 806.6L2412.2 826.2L2444.4 845.9L2461.0 865.5L2472.2 885.2L2485.8 904.9L2504.8 924.5L2535.3 944.2L2553.9 963.9L2575.4 983.5L2590.0 1003.2L2607.7 1022.8L2629.4 1042.5L2638.5 1062.2L2650.8 1081.8L2689.3 1101.5L2697.1 1121.1L2700.5 1140.8L2729.5 1160.5L2737.4 1180.1L2750.7 1199.8L2773.8 1219.5L2767.5 1239.1L2782.7 1258.8L2814.6 1278.4L2802.5 1298.1L2793.9 1317.8L2802.2 1337.4L2768.4 1357.1L2781.2 1376.8L2760.5 1396.4L2721.7 1416.1L2722.8 1435.7L2592.0 1455.4L2603.7 1475.1L2609.7 1494.7L2506.0 1514.4L2533.5 1534.0L2591.4 1553.7L2528.4 1573.4L2602.4 1593.0L2491.0 1612.7L2484.4 1632.4L2429.9 1652.0L2459.5 1671.7L2437.0 1691.3L2467.5 1711.0L2461.9 1730.7L2439.4 1750.3L2417.5 1770.0L2436.3 1789.7" fill="none" stroke="#8e2c25" stroke-width="10" stroke-linejoin="round" stroke-linecap="square"/>
<path d="M2255.5 216.7L2258.6 236.4L2258.2 256.0L2262.0 275.7L2259.9 295.3L2261.3 315.0L2261.8 334.7L2266.8 354.3L2266.9 374.0L2263.8 393.7L2271.0 413.3L2269.1 433.0L2272.5 452.6L2279.8 472.3L2280.3 492.0L2288.7 511.6L2290.5 531.3L2296.4 551.0L2306.0 570.6L2314.5 590.3L2318.6 609.9L2326.9 629.6L2333.4 649.3L2342.9 668.9L2345.8 688.6L2359.1 708.2L2375.5 727.9L2388.1 747.6L2398.0 767.2L2411.9 786.9L2423.9 806.6L2446.0 826.2L2448.7 845.9L2456.7 865.5L2480.8 885.2L2508.0 904.9L2520.3 924.5L2550.2 944.2L2538.0 963.9L2572.3 983.5L2591.3 1003.2L2599.4 1022.8L2649.2 1042.5L2625.5 1062.2L2663.9 1081.8L2681.8 1101.5L2695.8 1121.1L2714.8 1140.8L2725.4 1160.5L2716.0 1180.1L2721.7 1199.8L2760.7 1219.5L2783.0 1239.1L2761.9 1258.8L2753.0 1278.4L2758.7 1298.1L2790.3 1317.8L2800.3 1337.4L2786.8 1357.1L2795.4 1376.8L2816.6 1396.4L2805.5 1416.1L2740.0 1435.7L2724.7 1455.4L2580.3 1475.1L2584.3 1494.7L2573.2 1514.4L2533.9 1534.0L2522.8 1553.7L2534.0 1573.4L2592.1 1593.0L2525.6 1612.7L2532.1 1632.4L2487.5 1652.0L2442.5 1671.7L2390.2 1691.3L2405.7 1711.0L2529.9 1730.7L2545.9 1750.3L2492.7 1770.0L2447.1 1789.7L2424.2 1809.3L2460.1 1829.0" fill="none" stroke="#9a322a" stroke-width="10" stroke-linejoin="round" stroke-linecap="square"/>
<path d="M2256.9 216.7L2257.0 236.4L2256.9 256.0L2262.0 275.7L2261.9 295.3L2264.0 315.0L2263.7 334.7L2266.5 354.3L2267.4 374.0L2268.3 393.7L2271.1 413.3L2270.3 433.0L2275.2 452.6L2279.7 472.3L2276.5 492.0L2284.8 511.6L2290.5 531.3L2298.3 551.0L2302.3 570.6L2314.7 590.3L2321.2 609.9L2324.6 629.6L2326.4 649.3L2328.3 668.9L2347.5 688.6L2349.0 708.2L2371.3 727.9L2385.6 747.6L2396.6 767.2L2399.6 786.9L2399.8 806.6L2422.2 826.2L2431.6 845.9L2473.8 865.5L2493.8 885.2L2497.8 904.9L2516.9 924.5L2512.7 944.2L2550.4 963.9L2548.4 983.5L2585.5 1003.2L2612.4 1022.8L2623.1 1042.5L2642.6 1062.2L2664.1 1081.8L2707.4 1101.5L2724.9 1121.1L2741.6 1140.8L2740.0 1160.5L2729.2 1180.1L2759.9 1199.8L2753.7 1219.5L2784.1 1239.1L2789.7 1258.8L2793.6 1278.4L2780.7 1298.1L2766.7 1317.8L2797.8 1337.4L2789.1 1357.1L2827.8 1376.8L2819.3 1396.4L2717.3 1416.1L2715.7 1435.7L2570.2 1455.4L2517.6 1475.1L2533.3 1494.7L2593.3 1514.4L2575.7 1534.0L2542.0 1553.7L2512.8 1573.4L2410.0 1593.0L2391.6 1612.7L2488.8 1632.4L2475.5 1652.0L2419.3 1671.7L2433.5 1691.3L2549.7 1711.0L2471.9 1730.7L1635.6 1750.3L3793.5 1770.0" fill="none" stroke="#a6372f" stroke-width="10" stroke-linejoin="round" stroke-linecap="square"/>
<path d="M2258.9 216.7L2262.5 236.4L2265.2 256.0L2265.3 275.7L2265.7 295.3L2266.3 315.0L2265.5 334.7L2266.1 354.3L2267.7 374.0L2266.4 393.7L2269.5 413.3L2273.9 433.0L2279.3 452.6L2279.7 472.3L2281.2 492.0L2286.5 511.6L2299.1 531.3L2307.2 551.0L2311.5 570.6L2312.2 590.3L2327.2 609.9L2325.9 629.6L2336.0 649.3L2346.8 668.9L2361.0 688.6L2375.1 708.2L2382.3 727.9L2381.3 747.6L2414.2 767.2L2429.1 786.9L2437.2 806.6L2444.5 826.2L2453.1 845.9L2486.6 865.5L2506.8 885.2L2540.9 904.9L2546.1 924.5L2544.1 944.2L2598.5 963.9L2604.4 983.5L2612.5 1003.2L2638.3 1022.8L2630.5 1042.5L2643.3 1062.2L2682.5 1081.8L2707.1 1101.5L2744.3 1121.1L2731.5 1140.8L2731.3 1160.5L2771.1 1180.1L2714.0 1199.8L2797.4 1219.5L2812.7 1239.1L2831.5 1258.8L2812.6 1278.4L2807.1 1298.1L2841.9 1317.8L2817.8 1337.4L2832.6 1357.1L2849.5 1376.8L2837.3 1396.4L2843.0 1416.1L2795.1 1435.7L2767.4 1455.4L2735.1 1475.1L2648.9 1494.7L2581.3 1514.4L2595.1 1534.0L2599.9 1553.7L2601.3 1573.4L2600.2 1593.0L2636.1 1612.7L2625.8 1632.4L2629.1 1652.0L2559.3 1671.7L2618.8 1691.3L2583.1 1711.0L2637.2 1730.7L2649.8 1750.3L2503.8 1770.0L2538.8 1789.7L2562.6 1809.3L2651.2 1829.0L2582.5 1848.6L2497.5 1868.3" fill="none" stroke="#b23d34" stroke-width="10" stroke-linejoin="round" stroke-linecap="square"/>
<path d="M2257.0 216.7L2262.5 236.4L2263.3 256.0L2263.3 275.7L2262.2 295.3L2262.4 315.0L2263.8 334.7L2266.8 354.3L2268.1 374.0L2265.4 393.7L2271.0 413.3L2274.1 433.0L2275.1 452.6L2285.2 472.3L2286.6 492.0L2289.8 511.6L2294.8 531.3L2302.7 551.0L2308.8 570.6L2315.2 590.3L2321.4 609.9L2332.8 629.6L2339.9 649.3L2349.0 668.9L2358.9 688.6L2357.9 708.2L2366.6 727.9L2382.9 747.6L2397.3 767.2L2402.7 786.9L2413.6 806.6L2436.3 826.2L2455.9 845.9L2466.9 865.5L2486.8 885.2L2508.0 904.9L2530.0 924.5L2573.8 944.2L2588.3 963.9L2599.3 983.5L2640.6 1003.2L2668.1 1022.8L2662.6 1042.5L2692.1 1062.2L2666.0 1081.8L2710.3 1101.5L2731.0 1121.1L2729.6 1140.8L2755.4 1160.5L2781.3 1180.1L2767.9 1199.8L2788.0 1219.5L2783.9 1239.1L2804.3 1258.8L2837.8 1278.4L2821.4 1298.1L2870.0 1317.8L2831.1 1337.4L2841.4 1357.1L2829.3 1376.8L2818.2 1396.4L2829.0 1416.1L2776.2 1435.7L2753.9 1455.4L2637.2 1475.1L2488.6 1494.7L2444.2 1514.4L2416.4 1534.0L2388.6 1553.7L2360.9 1573.4L2335.8 1593.0L2334.2 1612.7L2350.9 1632.4L2325.3 1652.0" fill="none" stroke="#be4339" stroke-width="10" stroke-linejoin="round" stroke-linecap="square"/>
<path d="M2258.7 216.7L2256.9 236.4L2261.2 256.0L2258.1 275.7L2260.3 295.3L2263.3 315.0L2261.5 334.7L2264.4 354.3L2267.5 374.0L2266.4 393.7L2272.2 413.3L2273.7 433.0L2274.9 452.6L2279.6 472.3L2281.1 492.0L2284.3 511.6L2290.2 531.3L2298.5 551.0L2310.7 570.6L2309.2 590.3L2324.1 609.9L2325.9 629.6L2333.4 649.3L2349.7 668.9L2346.4 688.6L2362.2 708.2L2379.6 727.9L2382.9 747.6L2406.8 767.2L2415.1 786.9L2426.0 806.6L2451.5 826.2L2457.4 845.9L2474.5 865.5L2484.7 885.2L2510.3 904.9L2538.4 924.5L2552.2 944.2L2558.2 963.9L2596.8 983.5L2616.6 1003.2L2631.7 1022.8L2631.8 1042.5L2656.6 1062.2L2668.8 1081.8L2691.1 1101.5L2691.1 1121.1L2707.0 1140.8L2740.5 1160.5L2746.4 1180.1L2759.1 1199.8L2739.8 1219.5L2741.3 1239.1L2743.5 1258.8L2735.0 1278.4L2812.1 1298.1L2792.4 1317.8L2806.7 1337.4L2818.9 1357.1L2761.0 1376.8L2716.3 1396.4L2705.3 1416.1L2735.1 1435.7L2628.9 1455.4L2549.5 1475.1L2685.1 1494.7L2691.3 1514.4L2550.8 1534.0L2576.2 1553.7L2615.5 1573.4L2507.7 1593.0L2439.2 1612.7L2550.9 1632.4L2481.2 1652.0L2460.9 1671.7L2386.5 1691.3L2333.7 1711.0L2394.4 1730.7L2410.4 1750.3L2433.3 1770.0L2418.2 1789.7L2399.3 1809.3L2408.4 1829.0L2455.9 1848.6L2400.5 1868.3" fill="none" stroke="#ca493d" stroke-width="10" stroke-linejoin="round" stroke-linecap="square"/>
<path d="M2259.2 216.7L2257.8 236.4L2259.2 256.0L2259.4 275.7L2261.3 295.3L2259.4 315.0L2262.2 334.7L2264.9 354.3L2264.5 374.0L2268.3 393.7L2267.5 413.3L2272.6 433.0L2276.6 452.6L2274.0 472.3L2279.3 492.0L2280.3 511.6L2285.3 531.3L2296.9 551.0L2301.5 570.6L2310.9 590.3L2316.1 609.9L2323.8 629.6L2328.6 649.3L2338.7 668.9L2346.4 688.6L2356.3 708.2L2378.2 727.9L2386.5 747.6L2391.7 767.2L2404.1 786.9L2406.0 806.6L2440.9 826.2L2465.2 845.9L2475.0 865.5L2505.4 885.2L2506.4 904.9L2540.8 924.5L2561.3 944.2L2571.0 963.9L2605.4 983.5L2619.7 1003.2L2602.0 1022.8L2625.5 1042.5L2680.5 1062.2L2676.4 1081.8L2690.0 1101.5L2717.6 1121.1L2734.3 1140.8L2738.9 1160.5L2742.2 1180.1L2745.3 1199.8L2754.0 1219.5L2786.8 1239.1L2795.3 1258.8L2803.8 1278.4L2800.8 1298.1L2805.4 1317.8L2805.8 1337.4L2794.9 1357.1L2786.4 1376.8L2781.1 1396.4L2655.5 1416.1L2612.6 1435.7L2605.2 1455.4L2551.4 1475.1L2484.0 1494.7L2568.9 1514.4L2487.4 1534.0L2514.4 1553.7L2441.3 1573.4L2444.6 1593.0L2533.9 1612.7L2482.8 1632.4L2532.9 1652.0L2495.3 1671.7L2532.3 1691.3L2609.7 1711.0L2540.7 1730.7L2528.2 1750.3L2543.1 1770.0L2437.2 1789.7L2516.4 1809.3" fill="none" stroke="#d64f42" stroke-width="10" stroke-linejoin="round" stroke-linecap="square"/>
<path d="M2258.6 216.7L2259.0 236.4L2262.0 256.0L2260.4 275.7L2261.7 295.3L2265.9 315.0L2262.7 334.7L2263.6 354.3L2266.3 374.0L2266.6 393.7L2266.5 413.3L2274.3 433.0L2276.1 452.6L2278.8 472.3L2282.8 492.0L2292.4 511.6L2293.7 531.3L2297.7 551.0L2307.5 570.6L2318.0 590.3L2321.5 609.9L2336.1 629.6L2338.1 649.3L2346.3 668.9L2361.2 688.6L2372.4 708.2L2375.6 727.9L2394.1 747.6L2403.7 767.2L2400.8 786.9L2425.8 806.6L2442.0 826.2L2468.5 845.9L2492.3 865.5L2508.6 885.2L2521.1 904.9L2540.9 924.5L2571.3 944.2L2589.3 963.9L2605.0 983.5L2627.5 1003.2L2654.8 1022.8L2657.7 1042.5L2689.2 1062.2L2693.5 1081.8L2722.9 1101.5L2714.3 1121.1L2748.3 1140.8L2754.4 1160.5L2762.1 1180.1L2767.2 1199.8L2793.7 1219.5L2795.0 1239.1L2770.1 1258.8L2801.7 1278.4L2808.2 1298.1L2786.7 1317.8L2842.3 1337.4L2818.5 1357.1L2790.8 1376.8L2781.7 1396.4L2808.6 1416.1L2830.6 1435.7L2778.6 1455.4L2774.6 1475.1L2701.1 1494.7L2630.0 1514.4L2623.9 1534.0L2538.5 1553.7L2631.6 1573.4L2530.1 1593.0L2544.0 1612.7L2580.8 1632.4L2543.9 1652.0L2582.1 1671.7L2497.6 1691.3L2560.9 1711.0L2601.2 1730.7L2558.0 1750.3L2508.9 1770.0L2512.3 1789.7L2507.1 1809.3L2548.6 1829.0L2533.9 1848.6L2621.4 1868.3" fill="none" stroke="#e25547" stroke-width="10" stroke-linejoin="round" stroke-linecap="square"/>
<path d="M2257.7 216.7L2257.3 236.4L2259.7 256.0L2261.3 275.7L2258.9 295.3L2264.2 315.0L2263.8 334.7L2266.7 354.3L2264.3 374.0L2264.3 393.7L2265.5 413.3L2268.8 433.0L2270.5 452.6L2276.3 472.3L2281.9 492.0L2280.7 511.6L2291.5 531.3L2300.9 551.0L2305.1 570.6L2314.2 590.3L2318.2 609.9L2329.5 629.6L2338.6 649.3L2342.2 668.9L2350.2 688.6L2360.4 708.2L2369.6 727.9L2385.4 747.6L2407.6 767.2L2411.3 786.9L2435.2 806.6L2450.3 826.2L2475.0 845.9L2482.1 865.5L2509.3 885.2L2523.3 904.9L2532.7 924.5L2550.6 944.2L2561.6 963.9L2591.5 983.5L2595.7 1003.2L2626.1 1022.8L2626.6 1042.5L2652.1 1062.2L2687.1 1081.8L2681.7 1101.5L2690.1 1121.1L2696.6 1140.8L2721.4 1160.5L2697.1 1180.1L2714.6 1199.8L2752.6 1219.5L2741.7 1239.1L2781.8 1258.8L2757.5 1278.4L2788.7 1298.1L2792.3 1317.8L2822.6 1337.4L2814.4 1357.1L2811.8 1376.8L2749.3 1396.4L2738.4 1416.1L2687.9 1435.7L2676.4 1455.4L2638.2 1475.1L2544.1 1494.7L2571.2 1514.4L2532.3 1534.0L2475.8 1553.7L2566.5 1573.4L2569.8 1593.0L2612.5 1612.7L2481.4 1632.4L2694.0 1652.0L2547.2 1671.7L2552.1 1691.3L2474.5 1711.0L2366.4 1730.7L2344.2 1750.3L2664.1 1770.0L2481.6 1789.7L2299.0 1809.3L2116.5 1829.0" fill="none" stroke="#ee5b4c" stroke-width="10" stroke-linejoin="round" stroke-linecap="square"/>
</g>
<rect x="2138.5" y="216.7" width="1222.0" height="1651.6" fill="none" stroke="#fff" stroke-width="5"/>
<rect x="2126.5" y="1788.2" width="9.5" height="3" fill="#fff"/>
<text x="2063.7" y="1805.9" font-family='"Liberation Sans", sans-serif' font-size="47.0" font-weight="normal" fill="#fff" text-anchor="start" textLength="50.0" lengthAdjust="spacingAndGlyphs"  stroke="#fff" stroke-width="0.94">10</text>
<rect x="2126.5" y="1591.5" width="9.5" height="3" fill="#fff"/>
<text x="2063.6" y="1609.2" font-family='"Liberation Sans", sans-serif' font-size="47.0" font-weight="normal" fill="#fff" text-anchor="start" textLength="50.8" lengthAdjust="spacingAndGlyphs"  stroke="#fff" stroke-width="0.94">15</text>
<rect x="2126.5" y="1394.9" width="9.5" height="3" fill="#fff"/>
<text x="2061.1" y="1412.6" font-family='"Liberation Sans", sans-serif' font-size="47.0" font-weight="normal" fill="#fff" text-anchor="start" textLength="52.7" lengthAdjust="spacingAndGlyphs"  stroke="#fff" stroke-width="0.94">20</text>
<rect x="2126.5" y="1198.3" width="9.5" height="3" fill="#fff"/>
<text x="2061.0" y="1216.0" font-family='"Liberation Sans", sans-serif' font-size="47.0" font-weight="normal" fill="#fff" text-anchor="start" textLength="53.5" lengthAdjust="spacingAndGlyphs"  stroke="#fff" stroke-width="0.94">25</text>
<rect x="2126.5" y="1001.7" width="9.5" height="3" fill="#fff"/>
<text x="2061.8" y="1019.4" font-family='"Liberation Sans", sans-serif' font-size="47.0" font-weight="normal" fill="#fff" text-anchor="start" textLength="51.9" lengthAdjust="spacingAndGlyphs"  stroke="#fff" stroke-width="0.94">30</text>
<rect x="2126.5" y="805.1" width="9.5" height="3" fill="#fff"/>
<text x="2061.8" y="822.8" font-family='"Liberation Sans", sans-serif' font-size="47.0" font-weight="normal" fill="#fff" text-anchor="start" textLength="52.7" lengthAdjust="spacingAndGlyphs"  stroke="#fff" stroke-width="0.94">35</text>
<rect x="2126.5" y="608.4" width="9.5" height="3" fill="#fff"/>
<text x="2062.6" y="626.1" font-family='"Liberation Sans", sans-serif' font-size="47.0" font-weight="normal" fill="#fff" text-anchor="start" textLength="51.2" lengthAdjust="spacingAndGlyphs"  stroke="#fff" stroke-width="0.94">40</text>
<rect x="2126.5" y="411.8" width="9.5" height="3" fill="#fff"/>
<text x="2062.6" y="429.5" font-family='"Liberation Sans", sans-serif' font-size="47.0" font-weight="normal" fill="#fff" text-anchor="start" textLength="51.9" lengthAdjust="spacingAndGlyphs"  stroke="#fff" stroke-width="0.94">45</text>
<rect x="2126.5" y="215.2" width="9.5" height="3" fill="#fff"/>
<text x="2061.8" y="232.9" font-family='"Liberation Sans", sans-serif' font-size="47.0" font-weight="normal" fill="#fff" text-anchor="start" textLength="51.9" lengthAdjust="spacingAndGlyphs"  stroke="#fff" stroke-width="0.94">50</text>
<rect x="2248.3" y="1870.8" width="3" height="9.5" fill="#fff"/>
<text x="2216.9" y="1927.4" font-family='"Liberation Sans", sans-serif' font-size="48.0" font-weight="normal" fill="#fff" text-anchor="start" textLength="65.1" lengthAdjust="spacingAndGlyphs"  stroke="#fff" stroke-width="0.96">0.0</text>
<rect x="2470.4" y="1870.8" width="3" height="9.5" fill="#fff"/>
<text x="2439.0" y="1927.4" font-family='"Liberation Sans", sans-serif' font-size="48.0" font-weight="normal" fill="#fff" text-anchor="start" textLength="65.9" lengthAdjust="spacingAndGlyphs"  stroke="#fff" stroke-width="0.96">0.2</text>
<rect x="2692.5" y="1870.8" width="3" height="9.5" fill="#fff"/>
<text x="2661.2" y="1927.4" font-family='"Liberation Sans", sans-serif' font-size="48.0" font-weight="normal" fill="#fff" text-anchor="start" textLength="65.1" lengthAdjust="spacingAndGlyphs"  stroke="#fff" stroke-width="0.96">0.4</text>
<rect x="2914.7" y="1870.8" width="3" height="9.5" fill="#fff"/>
<text x="2883.3" y="1927.4" font-family='"Liberation Sans", sans-serif' font-size="48.0" font-weight="normal" fill="#fff" text-anchor="start" textLength="65.9" lengthAdjust="spacingAndGlyphs"  stroke="#fff" stroke-width="0.96">0.6</text>
<rect x="3136.8" y="1870.8" width="3" height="9.5" fill="#fff"/>
<text x="3105.4" y="1927.4" font-family='"Liberation Sans", sans-serif' font-size="48.0" font-weight="normal" fill="#fff" text-anchor="start" textLength="65.9" lengthAdjust="spacingAndGlyphs"  stroke="#fff" stroke-width="0.96">0.8</text>
<rect x="3358.9" y="1870.8" width="3" height="9.5" fill="#fff"/>
<text x="3328.8" y="1927.4" font-family='"Liberation Sans", sans-serif' font-size="48.0" font-weight="normal" fill="#fff" text-anchor="start" textLength="59.2" lengthAdjust="spacingAndGlyphs"  stroke="#fff" stroke-width="0.96">1.0</text>
<text x="3261.8" y="1983.8" font-family='"Liberation Sans", sans-serif' font-size="48.0" font-weight="normal" fill="#fff" text-anchor="start" textLength="97.2" lengthAdjust="spacingAndGlyphs"  stroke="#fff" stroke-width="0.96">1e13</text>
<text x="2355.5" y="2002.8" font-family='"Liberation Sans", sans-serif' font-size="61.0" font-weight="normal" fill="#fff" text-anchor="start" textLength="789.4" lengthAdjust="spacingAndGlyphs"  stroke="#fff" stroke-width="1.22">Ozone Concentration (Ao3)</text>
<text x="2653.5" y="2077.6" font-family='"Liberation Sans", sans-serif' font-size="57.5" font-weight="normal" fill="#fff" text-anchor="start" textLength="19.2" lengthAdjust="spacingAndGlyphs"  stroke="#fff" stroke-width="1.15">[</text>
<text x="2677.5" y="2077.6" font-family='"Liberation Sans", sans-serif' font-size="56.0" font-weight="normal" fill="#fff" text-anchor="start" textLength="86.6" lengthAdjust="spacingAndGlyphs"  stroke="#fff" stroke-width="1.12">cm</text>
<rect x="2770.8" y="2044.5" width="25.2" height="1.7" fill="#fff"/>
<text x="2799.1" y="2055.6" font-family='"Liberation Serif", serif' font-size="42.5" font-weight="normal" fill="#fff" text-anchor="start" textLength="19.9" lengthAdjust="spacingAndGlyphs" >3</text>
<text x="2827.9" y="2077.6" font-family='"Liberation Sans", sans-serif' font-size="57.5" font-weight="normal" fill="#fff" text-anchor="start" textLength="19.8" lengthAdjust="spacingAndGlyphs"  stroke="#fff" stroke-width="1.15">]</text>
<g transform="translate(2023.0 1233.0) rotate(-90)">
<text x="0.0" y="0.0" font-family='"Liberation Sans", sans-serif' font-size="61.0" font-weight="normal" fill="#fff" text-anchor="start" textLength="381.7" lengthAdjust="spacingAndGlyphs"  stroke="#fff" stroke-width="1.22">Altitude [km]</text>
</g>
<text x="1158.3" y="194.0" font-family='"Liberation Sans", sans-serif' font-size="64.0" font-weight="bold" fill="#fff" text-anchor="start" textLength="249.4" lengthAdjust="spacingAndGlyphs" >Sunrise</text>
<text x="2636.0" y="194.0" font-family='"Liberation Sans", sans-serif' font-size="64.0" font-weight="bold" fill="#fff" text-anchor="start" textLength="224.0" lengthAdjust="spacingAndGlyphs" >Sunset</text>
<text x="1590.5" y="101.3" font-family='"Liberation Sans", sans-serif' font-size="77.0" font-weight="bold" fill="#fff" text-anchor="start" textLength="214.9" lengthAdjust="spacingAndGlyphs" >SAGE</text>
<path d="M1840.8 47.2 h36.7 v10.3 h-11.1 v33.8 h11.1 v10.3 h-36.7 v-10.3 h11.1 v-33.8 h-11.1 Z" fill="#fff"/>
<path d="M1886.2 47.2 h36.7 v10.3 h-11.1 v33.8 h11.1 v10.3 h-36.7 v-10.3 h11.1 v-33.8 h-11.1 Z" fill="#fff"/>
<path d="M1931.6 47.2 h36.7 v10.3 h-11.1 v33.8 h11.1 v10.3 h-36.7 v-10.3 h11.1 v-33.8 h-11.1 Z" fill="#fff"/>
<path d="M2020.7 47.2 h36.7 v10.3 h-11.1 v33.8 h11.1 v10.3 h-36.7 v-10.3 h11.1 v-33.8 h-11.1 Z" fill="#fff"/>
<path d="M1968.3 122.4 L1983.0 122.4 L2008.5 44.2 L1993.8 44.2 Z" fill="#fff"/>
<text x="2063.2" y="101.3" font-family='"Liberation Sans", sans-serif' font-size="77.0" font-weight="bold" fill="#fff" text-anchor="start" textLength="102.8" lengthAdjust="spacingAndGlyphs" >SS</text>
<text x="2185.8" y="101.3" font-family='"Liberation Sans", sans-serif' font-size="77.0" font-weight="bold" fill="#fff" text-anchor="start" textLength="259.8" lengthAdjust="spacingAndGlyphs" >Ozone</text>
<text x="1761.3" y="189.6" font-family='"Liberation Sans", sans-serif' font-size="77.0" font-weight="bold" fill="#fff" text-anchor="start" textLength="504.4" lengthAdjust="spacingAndGlyphs" >26 May 2025</text>
<rect x="10.7" y="759.4" width="427.4" height="897" rx="7" ry="7" fill="#000" stroke="#b4b4b4" stroke-width="3"/>
<rect x="21.0" y="785.9" width="90" height="10" fill="#09507c"/>
<text x="138.4" y="805.2" font-family='"Liberation Sans", sans-serif' font-size="40.7" font-weight="normal" fill="#fff" text-anchor="start" textLength="276.5" lengthAdjust="spacingAndGlyphs"  stroke="#fff" stroke-width="0.81">2025052601SR</text>
<rect x="21.0" y="845.0" width="90" height="10" fill="#095482"/>
<text x="138.4" y="864.3" font-family='"Liberation Sans", sans-serif' font-size="40.7" font-weight="normal" fill="#fff" text-anchor="start" textLength="276.5" lengthAdjust="spacingAndGlyphs"  stroke="#fff" stroke-width="0.81">2025052604SR</text>
<rect x="21.0" y="904.0" width="90" height="10" fill="#095989"/>
<text x="138.4" y="923.3" font-family='"Liberation Sans", sans-serif' font-size="40.7" font-weight="normal" fill="#fff" text-anchor="start" textLength="276.5" lengthAdjust="spacingAndGlyphs"  stroke="#fff" stroke-width="0.81">2025052607SR</text>
<rect x="21.0" y="963.1" width="90" height="10" fill="#0a5d90"/>
<text x="138.4" y="982.4" font-family='"Liberation Sans", sans-serif' font-size="40.7" font-weight="normal" fill="#fff" text-anchor="start" textLength="276.5" lengthAdjust="spacingAndGlyphs"  stroke="#fff" stroke-width="0.81">2025052610SR</text>
<rect x="21.0" y="1022.2" width="90" height="10" fill="#0a6296"/>
<text x="138.4" y="1041.5" font-family='"Liberation Sans", sans-serif' font-size="40.7" font-weight="normal" fill="#fff" text-anchor="start" textLength="276.5" lengthAdjust="spacingAndGlyphs"  stroke="#fff" stroke-width="0.81">2025052613SR</text>
<rect x="21.0" y="1081.2" width="90" height="10" fill="#0a669c"/>
<text x="138.4" y="1100.5" font-family='"Liberation Sans", sans-serif' font-size="40.7" font-weight="normal" fill="#fff" text-anchor="start" textLength="276.5" lengthAdjust="spacingAndGlyphs"  stroke="#fff" stroke-width="0.81">2025052616SR</text>
<rect x="21.0" y="1140.3" width="90" height="10" fill="#0a6ba3"/>
<text x="138.4" y="1159.6" font-family='"Liberation Sans", sans-serif' font-size="40.7" font-weight="normal" fill="#fff" text-anchor="start" textLength="276.5" lengthAdjust="spacingAndGlyphs"  stroke="#fff" stroke-width="0.81">2025052619SR</text>
<rect x="21.0" y="1199.4" width="90" height="10" fill="#0a6faa"/>
<text x="138.4" y="1218.7" font-family='"Liberation Sans", sans-serif' font-size="40.7" font-weight="normal" fill="#fff" text-anchor="start" textLength="276.5" lengthAdjust="spacingAndGlyphs"  stroke="#fff" stroke-width="0.81">2025052625SR</text>
<rect x="21.0" y="1258.5" width="90" height="10" fill="#0b73b0"/>
<text x="138.4" y="1277.8" font-family='"Liberation Sans", sans-serif' font-size="40.7" font-weight="normal" fill="#fff" text-anchor="start" textLength="276.5" lengthAdjust="spacingAndGlyphs"  stroke="#fff" stroke-width="0.81">2025052628SR</text>
<rect x="21.0" y="1317.5" width="90" height="10" fill="#0b78b6"/>
<text x="138.4" y="1336.8" font-family='"Liberation Sans", sans-serif' font-size="40.7" font-weight="normal" fill="#fff" text-anchor="start" textLength="276.5" lengthAdjust="spacingAndGlyphs"  stroke="#fff" stroke-width="0.81">2025052631SR</text>
<rect x="21.0" y="1376.6" width="90" height="10" fill="#0b7cbd"/>
<text x="138.4" y="1395.9" font-family='"Liberation Sans", sans-serif' font-size="40.7" font-weight="normal" fill="#fff" text-anchor="start" textLength="276.5" lengthAdjust="spacingAndGlyphs"  stroke="#fff" stroke-width="0.81">2025052634SR</text>
<rect x="21.0" y="1435.7" width="90" height="10" fill="#0b81c4"/>
<text x="138.4" y="1455.0" font-family='"Liberation Sans", sans-serif' font-size="40.7" font-weight="normal" fill="#fff" text-anchor="start" textLength="276.5" lengthAdjust="spacingAndGlyphs"  stroke="#fff" stroke-width="0.81">2025052637SR</text>
<rect x="21.0" y="1494.7" width="90" height="10" fill="#0c85ca"/>
<text x="138.4" y="1514.0" font-family='"Liberation Sans", sans-serif' font-size="40.7" font-weight="normal" fill="#fff" text-anchor="start" textLength="276.5" lengthAdjust="spacingAndGlyphs"  stroke="#fff" stroke-width="0.81">2025052640SR</text>
<rect x="21.0" y="1553.8" width="90" height="10" fill="#0c8ad0"/>
<text x="138.4" y="1573.1" font-family='"Liberation Sans", sans-serif' font-size="40.7" font-weight="normal" fill="#fff" text-anchor="start" textLength="276.5" lengthAdjust="spacingAndGlyphs"  stroke="#fff" stroke-width="0.81">2025052643SR</text>
<rect x="21.0" y="1612.9" width="90" height="10" fill="#0c8ed7"/>
<text x="138.4" y="1632.2" font-family='"Liberation Sans", sans-serif' font-size="40.7" font-weight="normal" fill="#fff" text-anchor="start" textLength="276.5" lengthAdjust="spacingAndGlyphs"  stroke="#fff" stroke-width="0.81">2025052646SR</text>
<rect x="3380.9" y="759.4" width="423.6" height="897" rx="7" ry="7" fill="#000" stroke="#b4b4b4" stroke-width="3"/>
<rect x="3391.2" y="785.9" width="90" height="10" fill="#460808"/>
<text x="3508.6" y="805.2" font-family='"Liberation Sans", sans-serif' font-size="40.7" font-weight="normal" fill="#fff" text-anchor="start" textLength="274.3" lengthAdjust="spacingAndGlyphs"  stroke="#fff" stroke-width="0.81">2025052603SS</text>
<rect x="3391.2" y="845.0" width="90" height="10" fill="#520e0d"/>
<text x="3508.6" y="864.3" font-family='"Liberation Sans", sans-serif' font-size="40.7" font-weight="normal" fill="#fff" text-anchor="start" textLength="274.3" lengthAdjust="spacingAndGlyphs"  stroke="#fff" stroke-width="0.81">2025052606SS</text>
<rect x="3391.2" y="904.0" width="90" height="10" fill="#5e1412"/>
<text x="3508.6" y="923.3" font-family='"Liberation Sans", sans-serif' font-size="40.7" font-weight="normal" fill="#fff" text-anchor="start" textLength="274.3" lengthAdjust="spacingAndGlyphs"  stroke="#fff" stroke-width="0.81">2025052609SS</text>
<rect x="3391.2" y="963.1" width="90" height="10" fill="#6a1a17"/>
<text x="3508.6" y="982.4" font-family='"Liberation Sans", sans-serif' font-size="40.7" font-weight="normal" fill="#fff" text-anchor="start" textLength="274.3" lengthAdjust="spacingAndGlyphs"  stroke="#fff" stroke-width="0.81">2025052612SS</text>
<rect x="3391.2" y="1022.2" width="90" height="10" fill="#76201b"/>
<text x="3508.6" y="1041.5" font-family='"Liberation Sans", sans-serif' font-size="40.7" font-weight="normal" fill="#fff" text-anchor="start" textLength="274.3" lengthAdjust="spacingAndGlyphs"  stroke="#fff" stroke-width="0.81">2025052615SS</text>
<rect x="3391.2" y="1081.2" width="90" height="10" fill="#822620"/>
<text x="3508.6" y="1100.5" font-family='"Liberation Sans", sans-serif' font-size="40.7" font-weight="normal" fill="#fff" text-anchor="start" textLength="274.3" lengthAdjust="spacingAndGlyphs"  stroke="#fff" stroke-width="0.81">2025052618SS</text>
<rect x="3391.2" y="1140.3" width="90" height="10" fill="#8e2c25"/>
<text x="3508.6" y="1159.6" font-family='"Liberation Sans", sans-serif' font-size="40.7" font-weight="normal" fill="#fff" text-anchor="start" textLength="274.3" lengthAdjust="spacingAndGlyphs"  stroke="#fff" stroke-width="0.81">2025052621SS</text>
<rect x="3391.2" y="1199.4" width="90" height="10" fill="#9a322a"/>
<text x="3508.6" y="1218.7" font-family='"Liberation Sans", sans-serif' font-size="40.7" font-weight="normal" fill="#fff" text-anchor="start" textLength="274.3" lengthAdjust="spacingAndGlyphs"  stroke="#fff" stroke-width="0.81">2025052624SS</text>
<rect x="3391.2" y="1258.5" width="90" height="10" fill="#a6372f"/>
<text x="3508.6" y="1277.8" font-family='"Liberation Sans", sans-serif' font-size="40.7" font-weight="normal" fill="#fff" text-anchor="start" textLength="274.3" lengthAdjust="spacingAndGlyphs"  stroke="#fff" stroke-width="0.81">2025052627SS</text>
<rect x="3391.2" y="1317.5" width="90" height="10" fill="#b23d34"/>
<text x="3508.6" y="1336.8" font-family='"Liberation Sans", sans-serif' font-size="40.7" font-weight="normal" fill="#fff" text-anchor="start" textLength="274.3" lengthAdjust="spacingAndGlyphs"  stroke="#fff" stroke-width="0.81">2025052630SS</text>
<rect x="3391.2" y="1376.6" width="90" height="10" fill="#be4339"/>
<text x="3508.6" y="1395.9" font-family='"Liberation Sans", sans-serif' font-size="40.7" font-weight="normal" fill="#fff" text-anchor="start" textLength="274.3" lengthAdjust="spacingAndGlyphs"  stroke="#fff" stroke-width="0.81">2025052633SS</text>
<rect x="3391.2" y="1435.7" width="90" height="10" fill="#ca493d"/>
<text x="3508.6" y="1455.0" font-family='"Liberation Sans", sans-serif' font-size="40.7" font-weight="normal" fill="#fff" text-anchor="start" textLength="274.3" lengthAdjust="spacingAndGlyphs"  stroke="#fff" stroke-width="0.81">2025052636SS</text>
<rect x="3391.2" y="1494.7" width="90" height="10" fill="#d64f42"/>
<text x="3508.6" y="1514.0" font-family='"Liberation Sans", sans-serif' font-size="40.7" font-weight="normal" fill="#fff" text-anchor="start" textLength="274.3" lengthAdjust="spacingAndGlyphs"  stroke="#fff" stroke-width="0.81">2025052639SS</text>
<rect x="3391.2" y="1553.8" width="90" height="10" fill="#e25547"/>
<text x="3508.6" y="1573.1" font-family='"Liberation Sans", sans-serif' font-size="40.7" font-weight="normal" fill="#fff" text-anchor="start" textLength="274.3" lengthAdjust="spacingAndGlyphs"  stroke="#fff" stroke-width="0.81">2025052642SS</text>
<rect x="3391.2" y="1612.9" width="90" height="10" fill="#ee5b4c"/>
<text x="3508.6" y="1632.2" font-family='"Liberation Sans", sans-serif' font-size="40.7" font-weight="normal" fill="#fff" text-anchor="start" textLength="274.3" lengthAdjust="spacingAndGlyphs"  stroke="#fff" stroke-width="0.81">2025052645SS</text>
<rect x="40" y="1975" width="36.9" height="10" fill="#fff"/>
<rect x="93.2" y="1975" width="26.8" height="10" fill="#fff"/>
<text x="151.5" y="1993.4" font-family='"Liberation Sans", sans-serif' font-size="40.7" font-weight="normal" fill="#fff" text-anchor="start" textLength="349.8" lengthAdjust="spacingAndGlyphs"  stroke="#fff" stroke-width="0.81">Mean Tropopause</text>
<rect x="40.0" y="2034.3" width="10.0" height="10" fill="#fff"/>
<rect x="66.5" y="2034.3" width="10.0" height="10" fill="#fff"/>
<rect x="93.0" y="2034.3" width="10.0" height="10" fill="#fff"/>
<rect x="119.5" y="2034.3" width="0.8" height="10" fill="#fff"/>
<text x="151.5" y="2052.8" font-family='"Liberation Sans", sans-serif' font-size="40.7" font-weight="normal" fill="#fff" text-anchor="start" textLength="386.1" lengthAdjust="spacingAndGlyphs"  stroke="#fff" stroke-width="0.81">Median Tropopause</text>
<rect x="40.1" y="2085.2" width="80.7" height="28.3" fill="#686b70" stroke="#8e9296" stroke-width="2"/>
<text x="152.9" y="2112.4" font-family='"Liberation Sans", sans-serif' font-size="40.7" font-weight="normal" fill="#fff" text-anchor="start" textLength="367.8" lengthAdjust="spacingAndGlyphs"  stroke="#fff" stroke-width="0.81">Tropopause Range</text>
<text x="3267.2" y="2038.4" font-family='"Liberation Sans", sans-serif' font-size="33.9" font-weight="normal" fill="#808080" text-anchor="start" textLength="571.1" lengthAdjust="spacingAndGlyphs"  stroke="#808080" stroke-width="0.68">SAGE III/ISS Mission | NASA LaRC</text>
<text x="3311.0" y="2076.0" font-family='"Liberation Sans", sans-serif' font-size="33.9" font-weight="normal" fill="#808080" text-anchor="start" textLength="527.9" lengthAdjust="spacingAndGlyphs"  stroke="#808080" stroke-width="0.68">Preparer: Kevin R. Leavor (AMA)</text>
<text x="3389.7" y="2113.4" font-family='"Liberation Sans", sans-serif' font-size="33.9" font-weight="normal" fill="#808080" text-anchor="start" textLength="448.8" lengthAdjust="spacingAndGlyphs"  stroke="#808080" stroke-width="0.68">Generated 2025-11-30 14:38</text>
<text x="3532.6" y="2150.8" font-family='"Liberation Sans", sans-serif' font-size="33.9" font-weight="normal" fill="#808080" text-anchor="start" textLength="305.3" lengthAdjust="spacingAndGlyphs"  stroke="#808080" stroke-width="0.68">Data Version: 6.0.0</text>
<g>
<defs>
<clipPath id="lgIn"><circle cx="3663.8" cy="219.4" r="125.1"/></clipPath>
<clipPath id="lgMoon"><circle cx="3637.0" cy="144.2" r="23.8"/></clipPath>
<clipPath id="lgSun"><circle cx="3735.3" cy="280.6" r="23.2"/></clipPath>
<clipPath id="lgLow"><rect x="3480" y="236" width="126" height="170"/></clipPath>
<path id="lgTxt" d="M3503.2 190.7L3503.2 195.5L3503.4 200.3L3503.6 204.9L3504.0 209.5L3504.4 214.1L3504.9 218.5L3505.5 222.9L3506.2 227.2L3506.9 231.4L3507.8 235.6L3508.7 239.7L3509.7 243.7L3510.8 247.6L3511.9 251.5L3513.1 255.3L3514.4 259.1L3515.8 262.8L3517.2 266.4L3518.7 269.9L3520.2 273.4L3521.8 276.8L3523.5 280.2L3525.2 283.5L3526.9 286.7L3528.7 289.9L3530.6 293.0L3532.5 296.0L3534.5 299.0L3536.5 302.0L3538.5 304.8L3540.6 307.6L3542.7 310.4L3544.9 313.1L3547.1 315.7L3549.3 318.3L3551.5 320.8L3553.8 323.3L3556.1 325.7L3558.5 328.0L3560.8 330.3L3563.2 332.6L3565.6 334.8L3568.0 336.9L3570.5 339.0L3572.9 341.0L3575.4 343.0L3577.8 344.9L3580.3 346.7L3582.8 348.6L3585.3 350.3L3587.8 352.0L3590.3 353.7L3592.8 355.3L3595.2 356.8L3597.7 358.4L3600.2 359.8L3602.6 361.2L3605.1 362.6L3607.5 363.9L3609.9 365.1L3612.3 366.3L3614.7 367.5L3617.0 368.6L3619.3 369.7L3621.6 370.7L3623.9 371.7L3626.1 372.6L3628.3 373.5L3630.5 374.3L3632.6 375.1L3634.7 375.8L3636.7 376.5L3638.7 377.2L3640.7 377.8L3642.6 378.3L3644.4 378.8L3646.2 379.3L3647.9 379.8L3649.6 380.1L3651.2 380.5L3652.7 380.8L3654.2 381.1L3655.5 381.3L3656.9 381.5L3658.1 381.6L3659.2 381.8L3660.2 381.8L3661.2 381.9L3662.0 381.9L3662.8 381.9L3663.8 381.8L3664.8 381.8L3665.9 381.6L3667.1 381.5L3668.5 381.3L3669.8 381.1L3671.3 380.8L3672.8 380.5L3674.4 380.1L3676.1 379.8L3677.8 379.3L3679.6 378.8L3681.4 378.3L3683.3 377.8L3685.3 377.2L3687.3 376.5L3689.3 375.8L3691.4 375.1L3693.5 374.3L3695.7 373.5L3697.9 372.6L3700.1 371.7L3702.4 370.7L3704.7 369.7L3707.0 368.6L3709.3 367.5L3711.7 366.3L3714.1 365.1L3716.5 363.9L3718.9 362.6L3721.4 361.2L3723.8 359.8L3726.3 358.4L3728.8 356.8L3731.2 355.3L3733.7 353.7L3736.2 352.0L3738.7 350.3L3741.2 348.6L3743.7 346.7L3746.2 344.9L3748.6 343.0L3751.1 341.0L3753.5 339.0L3756.0 336.9L3758.4 334.8L3760.8 332.6L3763.2 330.3L3765.5 328.0L3767.9 325.7L3770.2 323.3L3772.5 320.8L3774.7 318.3L3776.9 315.7L3779.1 313.1L3781.3 310.4L3783.4 307.6L3785.5 304.8L3787.5 302.0L3789.5 299.0L3791.5 296.0L3793.4 293.0L3795.3 289.9L3797.1 286.7L3798.8 283.5L3800.5 280.2L3802.2 276.8L3803.8 273.4L3805.3 269.9L3806.8 266.4L3808.2 262.8L3809.6 259.1L3810.9 255.3L3812.1 251.5L3813.2 247.6L3814.3 243.7L3815.3 239.7L3816.2 235.6L3817.1 231.4L3817.8 227.2L3818.5 222.9L3819.1 218.5L3819.6 214.1L3820.0 209.5L3820.4 204.9L3820.6 200.3L3820.8 195.5L3820.8 190.7"/>
</defs>
<path d="M3662.0 17.8L3793.4 17.8L3797.9 18.1L3802.3 18.9L3806.5 20.2L3810.6 22.0L3814.4 24.3L3817.9 27.1L3821.1 30.3L3823.9 33.8L3826.2 37.6L3828.0 41.7L3829.3 45.9L3830.1 50.3L3830.4 54.8L3830.4 190.7L3830.3 198.2L3829.9 205.6L3829.4 212.8L3828.6 219.9L3827.6 226.7L3826.4 233.5L3825.1 240.0L3823.5 246.4L3821.8 252.6L3819.9 258.7L3817.8 264.6L3815.6 270.4L3813.2 276.0L3810.7 281.4L3808.0 286.7L3805.2 291.9L3802.3 296.9L3799.3 301.7L3796.1 306.4L3792.9 311.0L3789.6 315.4L3786.1 319.7L3782.6 323.8L3779.1 327.8L3775.4 331.7L3771.7 335.4L3768.0 339.0L3764.2 342.4L3760.4 345.8L3756.5 349.0L3752.6 352.0L3748.7 355.0L3744.8 357.8L3740.8 360.5L3736.9 363.1L3733.0 365.5L3729.1 367.8L3725.3 370.0L3721.4 372.1L3717.6 374.1L3713.9 376.0L3710.2 377.7L3706.5 379.3L3702.9 380.9L3699.4 382.3L3696.0 383.6L3692.7 384.8L3689.4 385.9L3686.3 386.9L3683.3 387.8L3680.4 388.6L3677.6 389.3L3674.9 389.9L3672.4 390.4L3670.0 390.8L3667.7 391.1L3665.7 391.3L3663.7 391.5L3662.0 391.5L3660.3 391.5L3658.3 391.3L3656.3 391.1L3654.0 390.8L3651.6 390.4L3649.1 389.9L3646.4 389.3L3643.6 388.6L3640.7 387.8L3637.7 386.9L3634.6 385.9L3631.3 384.8L3628.0 383.6L3624.6 382.3L3621.1 380.9L3617.5 379.3L3613.8 377.7L3610.1 376.0L3606.4 374.1L3602.6 372.1L3598.7 370.0L3594.9 367.8L3591.0 365.5L3587.1 363.1L3583.2 360.5L3579.2 357.8L3575.3 355.0L3571.4 352.0L3567.5 349.0L3563.6 345.8L3559.8 342.4L3556.0 339.0L3552.3 335.4L3548.6 331.7L3544.9 327.8L3541.4 323.8L3537.9 319.7L3534.4 315.4L3531.1 311.0L3527.9 306.4L3524.7 301.7L3521.7 296.9L3518.8 291.9L3516.0 286.7L3513.3 281.4L3510.8 276.0L3508.4 270.4L3506.2 264.6L3504.1 258.7L3502.2 252.6L3500.5 246.4L3498.9 240.0L3497.6 233.5L3496.4 226.7L3495.4 219.9L3494.6 212.8L3494.1 205.6L3493.7 198.2L3493.6 190.7L3493.6 54.8L3493.9 50.3L3494.7 45.9L3496.0 41.7L3497.8 37.6L3500.1 33.8L3502.9 30.3L3506.1 27.1L3509.6 24.3L3513.4 22.0L3517.5 20.2L3521.7 18.9L3526.1 18.1L3530.6 17.8L3662.0 17.8Z" fill="#ea5c49"/>
<path d="M3662.0 25.0L3793.4 25.0L3797.0 25.2L3800.5 25.9L3804.0 26.9L3807.2 28.4L3810.3 30.3L3813.2 32.5L3815.7 35.0L3817.9 37.9L3819.8 41.0L3821.3 44.2L3822.3 47.7L3823.0 51.2L3823.2 54.8L3823.2 190.7L3823.1 198.0L3822.8 205.2L3822.2 212.2L3821.5 219.0L3820.5 225.6L3819.4 232.1L3818.0 238.4L3816.5 244.6L3814.9 250.6L3813.0 256.4L3811.0 262.1L3808.9 267.7L3806.6 273.0L3804.2 278.3L3801.6 283.4L3798.9 288.3L3796.1 293.1L3793.2 297.8L3790.2 302.3L3787.1 306.7L3783.9 311.0L3780.6 315.1L3777.2 319.1L3773.8 322.9L3770.3 326.7L3766.7 330.3L3763.1 333.7L3759.4 337.1L3755.7 340.3L3752.0 343.4L3748.2 346.3L3744.4 349.2L3740.6 351.9L3736.8 354.5L3733.0 357.0L3729.3 359.4L3725.5 361.6L3721.7 363.7L3718.0 365.8L3714.4 367.7L3710.7 369.5L3707.2 371.2L3703.6 372.7L3700.2 374.2L3696.8 375.6L3693.5 376.8L3690.3 378.0L3687.2 379.1L3684.2 380.0L3681.3 380.9L3678.5 381.6L3675.9 382.3L3673.4 382.8L3671.1 383.3L3668.9 383.7L3666.9 384.0L3665.0 384.2L3663.4 384.3L3662.0 384.3L3660.6 384.3L3659.0 384.2L3657.1 384.0L3655.1 383.7L3652.9 383.3L3650.6 382.8L3648.1 382.3L3645.5 381.6L3642.7 380.9L3639.8 380.0L3636.8 379.1L3633.7 378.0L3630.5 376.8L3627.2 375.6L3623.8 374.2L3620.4 372.7L3616.8 371.2L3613.3 369.5L3609.6 367.7L3606.0 365.8L3602.3 363.7L3598.5 361.6L3594.7 359.4L3591.0 357.0L3587.2 354.5L3583.4 351.9L3579.6 349.2L3575.8 346.3L3572.0 343.4L3568.3 340.3L3564.6 337.1L3560.9 333.7L3557.3 330.3L3553.7 326.7L3550.2 322.9L3546.8 319.1L3543.4 315.1L3540.1 311.0L3536.9 306.7L3533.8 302.3L3530.8 297.8L3527.9 293.1L3525.1 288.3L3522.4 283.4L3519.8 278.3L3517.4 273.0L3515.1 267.7L3513.0 262.1L3511.0 256.4L3509.1 250.6L3507.5 244.6L3506.0 238.4L3504.6 232.1L3503.5 225.6L3502.5 219.0L3501.8 212.2L3501.2 205.2L3500.9 198.0L3500.8 190.7L3500.8 54.8L3501.0 51.2L3501.7 47.7L3502.7 44.2L3504.2 41.0L3506.1 37.9L3508.3 35.0L3510.8 32.5L3513.7 30.3L3516.8 28.4L3520.0 26.9L3523.5 25.9L3527.0 25.2L3530.6 25.0L3662.0 25.0Z" fill="#005382"/>
<g clip-path="url(#lgIn)">
<circle cx="3663.8" cy="219.4" r="125.6" fill="#005382"/>
<circle cx="3035.5" cy="704.0" r="798.6" fill="none" stroke="#0074a8" stroke-width="10.5"/>
<circle cx="3035.5" cy="704.0" r="793.0" fill="#005484"/>
<g clip-path="url(#lgEarth)">
<defs><clipPath id="lgEarth"><circle cx="3035.5" cy="704.0" r="792.4"/></clipPath></defs>
<path d="M3598 150 L3625 172 L3641 190 L3652 206 L3660 222 L3664 236 L3666 250 L3670 262 L3668 266 L3662 260 L3655 262 L3648 268 L3644 278 L3646 290 L3652 302 L3658 310 L3664 314 L3672 313 L3684 319 L3690 316 L3688 311 L3678 308 L3670 310 L3660 309 L3650 313 L3640 312 L3630 302 L3620 296 L3612 290 L3606 288 L3600 300 L3598 340 L3560 340 L3560 150 Z" fill="#5ca06c"/>
<path d="M3620 204 L3625 200 L3631 203 L3636 208 L3640 205 L3646 209 L3650 215 L3649 222 L3645 226 L3641 222 L3637 224 L3633 219 L3630 222 L3627 214 L3622 212 Z" fill="#005484"/>
<path d="M3640.5 196 L3644 199 L3646 206 L3642 203 Z M3650 204 L3654 210 L3652 214 L3648 207 Z" fill="#005484"/>
<path d="M3694 318 L3700 306 L3708 298 L3716 293 L3722 292 L3728 300 L3740 322 L3746 340 L3738 352 L3720 356 L3700 350 L3694 336 Z" fill="#5ca06c"/>
</g>
<circle cx="3035.5" cy="704.0" r="793.0" fill="none" stroke="#fff" stroke-width="1.2"/>
<line x1="3715.9" y1="191.1" x2="3655.2" y2="158.4" stroke="#eef3fa" stroke-width="1.1"/>
<line x1="3715.9" y1="191.1" x2="3644.6" y2="166.8" stroke="#eef3fa" stroke-width="1.1"/>
<line x1="3715.9" y1="191.1" x2="3669.6" y2="226.8" stroke="#eef3fa" stroke-width="1.1"/>
<line x1="3715.9" y1="191.1" x2="3675.7" y2="233.6" stroke="#eef3fa" stroke-width="1.1"/>
<line x1="3715.9" y1="191.1" x2="3723.5" y2="258.6" stroke="#eef3fa" stroke-width="1.1"/>
<line x1="3715.9" y1="191.1" x2="3734.1" y2="257.1" stroke="#eef3fa" stroke-width="1.1"/>
<line x1="3603" y1="152.5" x2="3640" y2="189.6" stroke="#eef3fa" stroke-width="1.1"/>
<line x1="3603" y1="152.5" x2="3621" y2="160" stroke="#cfe0f0" stroke-width="1.1"/>
<circle cx="3637.0" cy="144.2" r="23.8" fill="#fdfdfe"/>
<g clip-path="url(#lgMoon)">
<path d="M3613 150 Q3612 128 3630 121 Q3618 134 3620 152 Q3622 162 3630 167 Q3616 163 3613 150 Z" fill="#c6c9d5"/>
<path d="M3622 138 Q3624 126 3636 123 Q3650 121 3657 132 Q3662 142 3656 150 Q3652 143 3645 146 Q3640 152 3633 150 Q3630 143 3625 146 Z" fill="#c6c9d5"/>
<path d="M3640 152 Q3646 149 3650 154 Q3648 161 3641 159 Z M3652 150 Q3657 152 3655 158 Q3651 156 3652 150 Z" fill="#c6c9d5"/>
<circle cx="3630.5" cy="131.5" r="2.0" fill="#fff"/><circle cx="3636.5" cy="127.5" r="1.4" fill="#fff"/>
<path d="M3640 139 q4 -5 9 -3 q-3 3 -2 7 q-4 1 -7 -4 Z M3646 130 q4 -1 6 3 q-4 0 -6 -3 Z" fill="#fff"/>
</g>
<circle cx="3735.3" cy="280.6" r="23.2" fill="#c9ccd9"/>
<g clip-path="url(#lgSun)"><circle cx="3739.5" cy="277.2" r="24.2" fill="#ffdf96"/></g>
<path d="M3693.4 106.7 L3694.9 114.7 L3702.9 116.2 L3694.9 117.7 L3693.4 125.7 L3691.9 117.7 L3683.9 116.2 L3691.9 114.7 Z" fill="#ffd873"/>
<path d="M3693.4 112.2 L3694.0 115.6 L3697.4 116.2 L3694.0 116.8 L3693.4 120.2 L3692.8 116.8 L3689.4 116.2 L3692.8 115.6 Z" fill="#fff3c0"/>
<path d="M3680.0 122.1 L3680.9 126.8 L3685.6 127.7 L3680.9 128.6 L3680.0 133.3 L3679.1 128.6 L3674.4 127.7 L3679.1 126.8 Z" fill="#fff"/>
<path d="M3703.6 127.1 L3704.3 130.6 L3707.8 131.3 L3704.3 132.0 L3703.6 135.5 L3702.9 132.0 L3699.4 131.3 L3702.9 130.6 Z" fill="#fff"/>
<g transform="translate(3728.6 178.6) rotate(45)">
<rect x="-27.40" y="-19" width="1.6" height="38" fill="#c7c8d0"/>
<rect x="-24.85" y="-19" width="1.6" height="38" fill="#c7c8d0"/>
<rect x="-22.30" y="-19" width="1.6" height="38" fill="#c7c8d0"/>
<rect x="-19.75" y="-19" width="1.6" height="38" fill="#c7c8d0"/>
<rect x="-17.20" y="-19" width="1.6" height="38" fill="#c7c8d0"/>
<rect x="-14.65" y="-19" width="1.6" height="38" fill="#c7c8d0"/>
<rect x="-28.00" y="-1.3" width="15.6" height="2.6" fill="#005382"/>
<rect x="13.00" y="-19" width="1.6" height="38" fill="#c7c8d0"/>
<rect x="15.55" y="-19" width="1.6" height="38" fill="#c7c8d0"/>
<rect x="18.10" y="-19" width="1.6" height="38" fill="#c7c8d0"/>
<rect x="20.65" y="-19" width="1.6" height="38" fill="#c7c8d0"/>
<rect x="23.20" y="-19" width="1.6" height="38" fill="#c7c8d0"/>
<rect x="25.75" y="-19" width="1.6" height="38" fill="#c7c8d0"/>
<rect x="12.40" y="-1.3" width="15.6" height="2.6" fill="#005382"/>
<rect x="-30" y="-0.8" width="60" height="1.6" fill="#d9c9b5"/>
</g>
<g stroke="#d4d5dc" stroke-width="1.4" fill="none">
<path d="M3724.5 171.5 L3720.5 191 M3731.5 174 L3727.5 192.5 M3718 180.5 L3733.5 183.5 M3716.5 186.5 L3731 189.5 M3726 172.5 L3736.5 175 M3734 171 L3733 178"/>
</g>
</g>
<circle cx="3663.8" cy="219.4" r="132.1" fill="none" stroke="#c8cfdd" stroke-width="15.0"/>
<path d="M3545 152 L3558 148 L3580 152 L3600 166 L3607 170 L3607 332 L3596 331 L3580 320 L3566 303 L3552 283 L3541 258 L3539 240 L3546 222 L3553 212 L3548 204 L3540 214 L3527 228 L3503.5 243 L3509 222 L3514 196 L3520 176 L3532 162 Z" fill="#ea5a47"/>
<path d="M3567.1 228.1L3574.3 226.3L3576.1 269.4L3574.3 298.1L3569.8 292.7L3568.9 260.4Z" fill="#ae3927"/>
<path d="M3583.3 233.5L3590.4 231.7L3593.1 278.3L3590.4 316.0L3585.1 310.6L3586.0 269.4Z" fill="#ae3927"/>
<path d="M3597.6 229.9L3606.6 228.1L3606.6 331.3L3600.3 326.8L3601.2 278.3Z" fill="#ae3927"/>
<path d="M3601.2 269.4L3606.6 265.8L3606.6 331.3L3603.0 328.6Z" fill="#7d0c0c"/>
<path d="M3551.9 215.6L3559.1 226.3L3554.6 251.4L3552.8 276.5L3547.4 269.4L3542.0 251.4L3543.8 233.5Z" fill="#ae3927"/>
<path d="M3559.1 231.7L3563.5 233.5L3565.3 269.4L3561.7 287.3L3558.2 280.1L3559.1 251.4Z" fill="#7d0c0c" opacity="0.6"/>
<path d="M3558.2 179.7L3574.3 192.2L3590.4 197.6L3606.6 190.4L3606.6 204.8L3590.4 212.0L3571.6 206.6L3555.5 194.0Z" fill="#ae3927"/>
<path d="M3549.2 154.6L3565.3 149.2L3576.1 165.3L3583.3 183.3L3590.4 190.4L3574.3 186.9L3560.0 174.3Z" fill="#f06a55"/>
<path d="M3503.5 242.5L3534.8 223.6L3549.2 204.8L3543.8 195.8L3528.6 204.8L3513.3 228.1Z" fill="#ae3927"/>
<path d="M3503.5 242.5L3534.8 223.6L3542.0 215.6L3522.3 226.3Z" fill="#7d0c0c"/>
<path d="M3519.6 174.3L3528.6 167.1L3525.9 190.4L3515.1 215.6L3511.2 206.6Z" fill="#ae3927" opacity="0.7"/>
<path d="M3555 206 L3572 214 L3604 222 L3604 228 L3571 220 L3553.5 212 Z" fill="#7a3418"/>
<path d="M3586 217 L3594 213.5 L3603 217 L3604 226 L3596 230.5 L3587 227 Z" fill="#5a2010" stroke="#c98a4a" stroke-width="1.2"/>
<path d="M3597 133 L3590 128 L3580 130 L3570 135 L3562 141 L3556.5 147.5 L3562 151 L3569 157 L3575 167 L3579 179 L3585 188.5 L3591 191.5 L3596 186 L3600 177 L3602.5 168 L3603.5 160 L3600 158.5 L3596 157 L3592 152 L3589 146 L3591 139 Z" fill="#fff"/>
<path d="M3562 151 L3569 157 L3575 167 L3579 179 L3585 188.5 L3583 178 L3580 166 L3574 155 L3567 148 Z" fill="#dfe2ea"/>
<path d="M3597 133 L3602 134.5 L3604.5 139 L3605 143 L3608.5 149.5 L3605.5 151.5 L3604.5 155 L3603 159 L3598 158 L3593 153 L3589.5 146 L3591 139 Z" fill="#e9b07c"/>
<path d="M3589.5 146 L3593 153 L3598 158 L3596 151 L3593 145 Z" fill="#c98d57"/>
<path d="M3598.5 155.5 L3604.5 155 L3603.5 160.5 L3599.5 161.5 Z" fill="#fff"/>
<path d="M3598 142.2 L3604.2 144.2" stroke="#4a2a18" stroke-width="1.3"/>
<path d="M3596.5 139.6 L3603.8 140.8" stroke="#fff" stroke-width="1.4"/>
<path d="M3606.5 165 L3613 166.5 L3618 170 L3613.5 187 L3607 184 Z" fill="#8a3f1a"/>
<path d="M3610 170 L3616.5 171 L3617.5 176 L3612.5 188 L3609 182 Z" fill="#e9b07c"/>
<path d="M3534.2 123 L3543.8 190.4 L3551.9 256.8 L3560 269.4 L3564.6 293" fill="none" stroke="#b5722f" stroke-width="4.2" stroke-linejoin="round"/>
<path d="M3535.2 123 L3544.8 190.4 L3552.9 256.4 L3561 269 L3565.4 292" fill="none" stroke="#e0a352" stroke-width="1.3" stroke-linejoin="round"/>
<circle cx="3532.7" cy="113.3" r="10.6" fill="#fff"/>
<circle cx="3533.9" cy="113.0" r="9.4" fill="#cfd1dc"/>
<path d="M3528.5 180 L3535 174.5 L3544 176 L3549 183 L3546 192 L3538 196 L3531 190 Z" fill="#e9b07c"/>
<g clip-path="url(#lgLow)"><circle cx="3663.8" cy="219.4" r="132.1" fill="none" stroke="#c8cfdd" stroke-width="15.0"/></g>
<path d="M3503.5 243 L3527 228 L3534 221 L3530 240 L3516 241 Z" fill="#ae3927"/>
<text x="3528" y="58.9" font-family='"Liberation Serif", serif' font-weight="bold" font-size="42" fill="#fff" textLength="108.5" lengthAdjust="spacingAndGlyphs">SAGE</text>
<text x="3651.5" y="58.9" font-family='"Liberation Serif", serif' font-weight="bold" font-size="42" fill="#fff" textLength="48.5" lengthAdjust="spacingAndGlyphs">III</text>
<circle cx="3716.2" cy="45.6" r="4.2" fill="#fff"/>
<text x="3733.2" y="58.9" font-family='"Liberation Serif", serif' font-weight="bold" font-size="42" fill="#fff" textLength="60" lengthAdjust="spacingAndGlyphs">ISS</text>
<text x="3527.5" y="72.2" font-family='"Liberation Sans", sans-serif' font-size="8.3" fill="#e6ecf5" textLength="174" lengthAdjust="spacingAndGlyphs">Stratospheric Aerosol and Gas Experiment III</text>
<text x="3737" y="72.0" font-family='"Liberation Sans", sans-serif' font-size="8.3" fill="#e6ecf5" textLength="52" lengthAdjust="spacingAndGlyphs">International</text>
<text x="3733" y="83.2" font-family='"Liberation Sans", sans-serif' font-size="8.3" fill="#e6ecf5" textLength="60" lengthAdjust="spacingAndGlyphs">Space Station</text>
<text font-family='"Liberation Sans", sans-serif' font-weight="bold" font-size="12.8" fill="#fff" textLength="430" lengthAdjust="spacing"><textPath href="#lgTxt" xlink:href="#lgTxt" startOffset="70" textLength="430" lengthAdjust="spacing">BALL &#8226; NASA LANGLEY RESEARCH CENTER &#8226; TAS-I &#8226; ESA</textPath></text>
</g>
</svg>
</body></html>
